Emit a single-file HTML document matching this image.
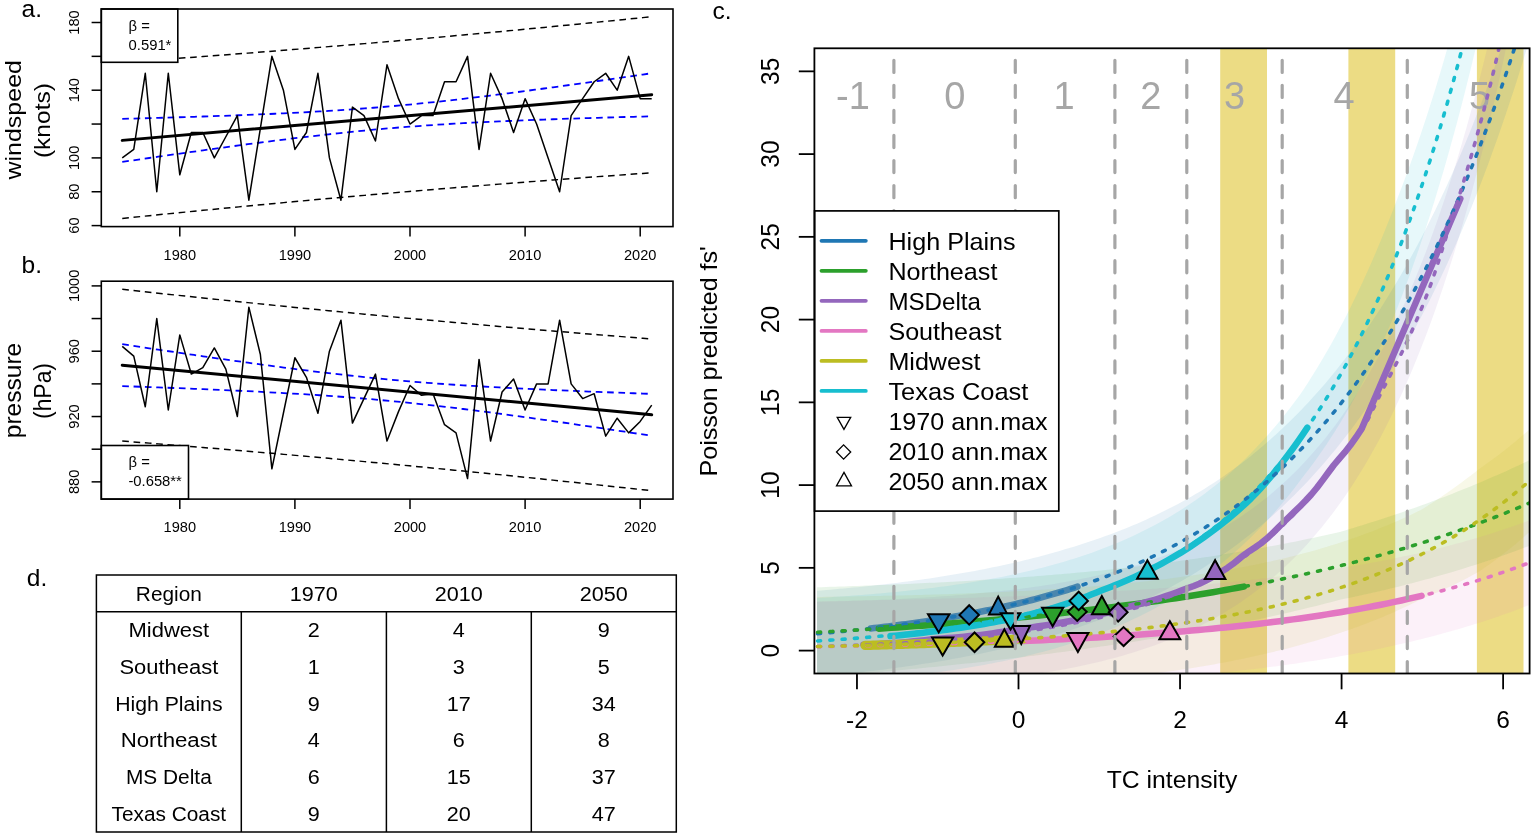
<!DOCTYPE html>
<html><head><meta charset="utf-8"><title>Figure</title>
<style>html,body{margin:0;padding:0;background:#fff;}svg{display:block;}text{font-family:'Liberation Sans', Arial, sans-serif;}</style>
</head><body>
<svg width="1534" height="838" viewBox="0 0 1534 838">
<rect width="1534" height="838" fill="#fff"/>
<polyline points="122.25,62.31 131.22,61.68 140.2,61.05 149.17,60.42 158.15,59.78 167.12,59.13 176.09,58.48 185.07,57.83 194.04,57.17 203.02,56.5 211.99,55.83 220.96,55.16 229.94,54.47 238.91,53.79 247.88,53.1 256.86,52.4 265.83,51.7 274.81,51 283.78,50.29 292.75,49.57 301.73,48.85 310.7,48.12 319.68,47.39 328.65,46.65 337.62,45.91 346.6,45.16 355.57,44.41 364.55,43.65 373.52,42.89 382.49,42.12 391.47,41.35 400.44,40.57 409.41,39.79 418.39,39 427.36,38.21 436.34,37.41 445.31,36.6 454.28,35.79 463.26,34.98 472.23,34.16 481.21,33.33 490.18,32.5 499.15,31.67 508.13,30.83 517.1,29.98 526.08,29.13 535.05,28.27 544.02,27.41 553,26.55 561.97,25.67 570.94,24.8 579.92,23.92 588.89,23.03 597.87,22.14 606.84,21.24 615.81,20.34 624.79,19.44 633.76,18.53 642.74,17.61 651.71,16.69" fill="none" stroke="#000" stroke-width="1.45" stroke-dasharray="6.65 4.69"/>
<polyline points="122.25,218.45 131.22,217.53 140.2,216.61 149.17,215.7 158.15,214.79 167.12,213.89 176.09,213 185.07,212.11 194.04,211.22 203.02,210.34 211.99,209.46 220.96,208.59 229.94,207.72 238.91,206.86 247.88,206.01 256.86,205.16 265.83,204.31 274.81,203.47 283.78,202.63 292.75,201.8 301.73,200.98 310.7,200.16 319.68,199.34 328.65,198.53 337.62,197.73 346.6,196.93 355.57,196.14 364.55,195.35 373.52,194.56 382.49,193.79 391.47,193.01 400.44,192.24 409.41,191.48 418.39,190.72 427.36,189.97 436.34,189.22 445.31,188.48 454.28,187.75 463.26,187.01 472.23,186.29 481.21,185.57 490.18,184.85 499.15,184.14 508.13,183.43 517.1,182.73 526.08,182.04 535.05,181.35 544.02,180.66 553,179.98 561.97,179.31 570.94,178.64 579.92,177.97 588.89,177.31 597.87,176.65 606.84,176 615.81,175.36 624.79,174.72 633.76,174.08 642.74,173.45 651.71,172.83" fill="none" stroke="#000" stroke-width="1.45" stroke-dasharray="6.65 4.69"/>
<polyline points="122.25,118.83 131.22,118.6 140.2,118.36 149.17,118.12 158.15,117.87 167.12,117.61 176.09,117.34 185.07,117.07 194.04,116.79 203.02,116.5 211.99,116.21 220.96,115.9 229.94,115.58 238.91,115.24 247.88,114.89 256.86,114.53 265.83,114.15 274.81,113.76 283.78,113.34 292.75,112.9 301.73,112.44 310.7,111.96 319.68,111.45 328.65,110.91 337.62,110.34 346.6,109.74 355.57,109.11 364.55,108.44 373.52,107.74 382.49,107.01 391.47,106.23 400.44,105.42 409.41,104.58 418.39,103.7 427.36,102.78 436.34,101.84 445.31,100.86 454.28,99.85 463.26,98.81 472.23,97.75 481.21,96.67 490.18,95.56 499.15,94.43 508.13,93.28 517.1,92.11 526.08,90.92 535.05,89.73 544.02,88.51 553,87.29 561.97,86.05 570.94,84.8 579.92,83.54 588.89,82.28 597.87,81 606.84,79.72 615.81,78.43 624.79,77.13 633.76,75.83 642.74,74.52 651.71,73.21" fill="none" stroke="#0000ff" stroke-width="1.8" stroke-dasharray="6.65 4.69"/>
<polyline points="122.25,161.92 131.22,160.61 140.2,159.3 149.17,158 158.15,156.71 167.12,155.42 176.09,154.13 185.07,152.86 194.04,151.59 203.02,150.33 211.99,149.09 220.96,147.85 229.94,146.62 238.91,145.41 247.88,144.21 256.86,143.03 265.83,141.86 274.81,140.71 283.78,139.58 292.75,138.47 301.73,137.38 310.7,136.32 319.68,135.29 328.65,134.28 337.62,133.3 346.6,132.35 355.57,131.44 364.55,130.56 373.52,129.71 382.49,128.9 391.47,128.13 400.44,127.39 409.41,126.69 418.39,126.03 427.36,125.39 436.34,124.79 445.31,124.23 454.28,123.69 463.26,123.18 472.23,122.69 481.21,122.23 490.18,121.8 499.15,121.38 508.13,120.98 517.1,120.6 526.08,120.24 535.05,119.89 544.02,119.56 553,119.24 561.97,118.93 570.94,118.63 579.92,118.34 588.89,118.06 597.87,117.79 606.84,117.53 615.81,117.27 624.79,117.02 633.76,116.78 642.74,116.54 651.71,116.3" fill="none" stroke="#0000ff" stroke-width="1.8" stroke-dasharray="6.65 4.69"/>
<polyline points="122.25,157.9 133.76,149.44 145.27,73.28 156.78,191.75 168.29,73.28 179.8,174.82 191.31,132.51 202.82,132.51 214.33,157.9 225.84,136.74 237.35,115.59 248.86,200.21 260.37,128.28 271.88,56.35 283.39,90.2 294.9,149.44 306.41,132.51 317.92,73.28 329.43,157.9 340.94,200.21 352.45,107.12 363.96,115.59 375.47,140.97 386.98,64.81 398.49,98.66 410,124.05 421.51,115.59 433.02,115.59 444.53,81.74 456.04,81.74 467.55,56.35 479.06,149.44 490.57,73.28 502.08,98.66 513.59,132.51 525.1,98.66 536.61,124.05 548.12,157.9 559.63,191.75 571.14,115.59 582.65,98.66 594.16,81.74 605.67,73.28 617.18,90.2 628.69,56.35 640.2,98.66 651.71,98.66" fill="none" stroke="#000" stroke-width="1.5" stroke-linejoin="round"/>
<line x1="122.25" y1="140.38" x2="651.71" y2="94.76" stroke="#000" stroke-width="3.0" stroke-linecap="round"/>
<rect x="101.3" y="9.0" width="76.5" height="53.3" fill="#fff" stroke="#000" stroke-width="1.6"/>
<text x="128.6" y="30.6" font-size="14.8">&#946; =</text>
<text x="128.6" y="50.1" font-size="14.8">0.591*</text>
<rect x="101.3" y="9.0" width="571.7" height="217.6" fill="none" stroke="#000" stroke-width="1.6"/>
<line x1="91.6" y1="225.6" x2="101.3" y2="225.6" stroke="#000" stroke-width="1.5"/>
<text transform="translate(79.3 225.6) rotate(-90) scale(1 1.04)" font-size="14.6" text-anchor="middle">60</text>
<line x1="91.6" y1="191.75" x2="101.3" y2="191.75" stroke="#000" stroke-width="1.5"/>
<text transform="translate(79.3 191.75) rotate(-90) scale(1 1.04)" font-size="14.6" text-anchor="middle">80</text>
<line x1="91.6" y1="157.9" x2="101.3" y2="157.9" stroke="#000" stroke-width="1.5"/>
<text transform="translate(79.3 157.9) rotate(-90) scale(1 1.04)" font-size="14.6" text-anchor="middle">100</text>
<line x1="91.6" y1="124.05" x2="101.3" y2="124.05" stroke="#000" stroke-width="1.5"/>
<line x1="91.6" y1="90.2" x2="101.3" y2="90.2" stroke="#000" stroke-width="1.5"/>
<text transform="translate(79.3 90.2) rotate(-90) scale(1 1.04)" font-size="14.6" text-anchor="middle">140</text>
<line x1="91.6" y1="56.35" x2="101.3" y2="56.35" stroke="#000" stroke-width="1.5"/>
<line x1="91.6" y1="22.5" x2="101.3" y2="22.5" stroke="#000" stroke-width="1.5"/>
<text transform="translate(79.3 22.5) rotate(-90) scale(1 1.04)" font-size="14.6" text-anchor="middle">180</text>
<line x1="179.8" y1="226.6" x2="179.8" y2="236.4" stroke="#000" stroke-width="1.5"/>
<text x="179.8" y="259.5" font-size="14.6" text-anchor="middle">1980</text>
<line x1="294.9" y1="226.6" x2="294.9" y2="236.4" stroke="#000" stroke-width="1.5"/>
<text x="294.9" y="259.5" font-size="14.6" text-anchor="middle">1990</text>
<line x1="410" y1="226.6" x2="410" y2="236.4" stroke="#000" stroke-width="1.5"/>
<text x="410" y="259.5" font-size="14.6" text-anchor="middle">2000</text>
<line x1="525.1" y1="226.6" x2="525.1" y2="236.4" stroke="#000" stroke-width="1.5"/>
<text x="525.1" y="259.5" font-size="14.6" text-anchor="middle">2010</text>
<line x1="640.2" y1="226.6" x2="640.2" y2="236.4" stroke="#000" stroke-width="1.5"/>
<text x="640.2" y="259.5" font-size="14.6" text-anchor="middle">2020</text>
<text x="21.4" y="119.8" font-size="22" text-anchor="middle" transform="rotate(-90 21.4 119.8)" textLength="119.5" lengthAdjust="spacingAndGlyphs">windspeed</text>
<text x="50.5" y="120.6" font-size="22" text-anchor="middle" transform="rotate(-90 50.5 120.6)" textLength="75" lengthAdjust="spacingAndGlyphs">(knots)</text>
<polyline points="122.25,289.27 131.22,290.25 140.2,291.23 149.17,292.21 158.15,293.18 167.12,294.15 176.09,295.11 185.07,296.06 194.04,297.02 203.02,297.96 211.99,298.91 220.96,299.84 229.94,300.78 238.91,301.7 247.88,302.63 256.86,303.54 265.83,304.46 274.81,305.36 283.78,306.27 292.75,307.17 301.73,308.06 310.7,308.95 319.68,309.83 328.65,310.71 337.62,311.58 346.6,312.45 355.57,313.31 364.55,314.17 373.52,315.02 382.49,315.87 391.47,316.71 400.44,317.55 409.41,318.38 418.39,319.21 427.36,320.03 436.34,320.84 445.31,321.66 454.28,322.46 463.26,323.26 472.23,324.06 481.21,324.85 490.18,325.64 499.15,326.42 508.13,327.2 517.1,327.97 526.08,328.74 535.05,329.5 544.02,330.26 553,331.01 561.97,331.75 570.94,332.5 579.92,333.23 588.89,333.97 597.87,334.69 606.84,335.42 615.81,336.13 624.79,336.85 633.76,337.56 642.74,338.26 651.71,338.96" fill="none" stroke="#000" stroke-width="1.45" stroke-dasharray="6.65 4.69"/>
<polyline points="122.25,441.03 131.22,441.73 140.2,442.43 149.17,443.14 158.15,443.86 167.12,444.57 176.09,445.3 185.07,446.02 194.04,446.76 203.02,447.49 211.99,448.24 220.96,448.98 229.94,449.73 238.91,450.49 247.88,451.25 256.86,452.02 265.83,452.79 274.81,453.57 283.78,454.35 292.75,455.14 301.73,455.93 310.7,456.73 319.68,457.53 328.65,458.33 337.62,459.15 346.6,459.96 355.57,460.78 364.55,461.61 373.52,462.44 382.49,463.28 391.47,464.12 400.44,464.97 409.41,465.82 418.39,466.68 427.36,467.54 436.34,468.41 445.31,469.28 454.28,470.16 463.26,471.04 472.23,471.93 481.21,472.82 490.18,473.72 499.15,474.63 508.13,475.53 517.1,476.45 526.08,477.36 535.05,478.29 544.02,479.21 553,480.15 561.97,481.08 570.94,482.03 579.92,482.97 588.89,483.93 597.87,484.88 606.84,485.84 615.81,486.81 624.79,487.78 633.76,488.76 642.74,489.74 651.71,490.72" fill="none" stroke="#000" stroke-width="1.45" stroke-dasharray="6.65 4.69"/>
<polyline points="122.25,344.21 131.22,345.57 140.2,346.93 149.17,348.29 158.15,349.64 167.12,350.99 176.09,352.32 185.07,353.65 194.04,354.97 203.02,356.29 211.99,357.59 220.96,358.88 229.94,360.17 238.91,361.44 247.88,362.69 256.86,363.93 265.83,365.16 274.81,366.37 283.78,367.56 292.75,368.73 301.73,369.87 310.7,371 319.68,372.09 328.65,373.16 337.62,374.21 346.6,375.22 355.57,376.2 364.55,377.14 373.52,378.05 382.49,378.93 391.47,379.77 400.44,380.58 409.41,381.35 418.39,382.09 427.36,382.8 436.34,383.47 445.31,384.11 454.28,384.73 463.26,385.31 472.23,385.88 481.21,386.41 490.18,386.93 499.15,387.42 508.13,387.9 517.1,388.36 526.08,388.8 535.05,389.23 544.02,389.65 553,390.05 561.97,390.44 570.94,390.82 579.92,391.19 588.89,391.55 597.87,391.91 606.84,392.26 615.81,392.6 624.79,392.93 633.76,393.26 642.74,393.58 651.71,393.9" fill="none" stroke="#0000ff" stroke-width="1.8" stroke-dasharray="6.65 4.69"/>
<polyline points="122.25,386.09 131.22,386.41 140.2,386.73 149.17,387.06 158.15,387.39 167.12,387.73 176.09,388.08 185.07,388.44 194.04,388.8 203.02,389.17 211.99,389.55 220.96,389.94 229.94,390.34 238.91,390.76 247.88,391.19 256.86,391.63 265.83,392.09 274.81,392.57 283.78,393.06 292.75,393.58 301.73,394.11 310.7,394.68 319.68,395.26 328.65,395.88 337.62,396.52 346.6,397.19 355.57,397.9 364.55,398.64 373.52,399.41 382.49,400.22 391.47,401.06 400.44,401.94 409.41,402.85 418.39,403.79 427.36,404.77 436.34,405.79 445.31,406.83 454.28,407.9 463.26,408.99 472.23,410.12 481.21,411.26 490.18,412.43 499.15,413.62 508.13,414.83 517.1,416.06 526.08,417.3 535.05,418.55 544.02,419.82 553,421.11 561.97,422.4 570.94,423.7 579.92,425.02 588.89,426.34 597.87,427.67 606.84,429 615.81,430.35 624.79,431.7 633.76,433.06 642.74,434.42 651.71,435.78" fill="none" stroke="#0000ff" stroke-width="1.8" stroke-dasharray="6.65 4.69"/>
<polyline points="122.25,346.32 133.76,356.12 145.27,406.74 156.78,318.56 168.29,410.01 179.8,334.89 191.31,374.08 202.82,367.55 214.33,347.95 225.84,369.18 237.35,416.54 248.86,307.13 260.37,354.49 271.88,468.8 283.39,413.27 294.9,357.75 306.41,377.35 317.92,413.27 329.43,351.22 340.94,320.19 352.45,423.07 363.96,398.58 375.47,374.08 386.98,441.03 398.49,411.64 410,385.51 421.51,395.31 433.02,393.68 444.53,424.7 456.04,432.87 467.55,478.59 479.06,359.38 490.57,441.03 502.08,392.04 513.59,378.98 525.1,410.01 536.61,383.88 548.12,383.88 559.63,320.19 571.14,383.88 582.65,398.58 594.16,393.68 605.67,436.14 617.18,418.17 628.69,432.87 640.2,421.44 651.71,405.11" fill="none" stroke="#000" stroke-width="1.5" stroke-linejoin="round"/>
<line x1="122.25" y1="365.15" x2="651.71" y2="414.84" stroke="#000" stroke-width="3.0" stroke-linecap="round"/>
<rect x="101.3" y="445.5" width="87.2" height="53.6" fill="#fff" stroke="#000" stroke-width="1.6"/>
<text x="128.6" y="467.4" font-size="14.8">&#946; =</text>
<text x="128.4" y="486.4" font-size="14.8">-0.658**</text>
<rect x="101.3" y="281.2" width="571.7" height="217.9" fill="none" stroke="#000" stroke-width="1.6"/>
<line x1="91.6" y1="481.86" x2="101.3" y2="481.86" stroke="#000" stroke-width="1.5"/>
<text transform="translate(79.3 481.86) rotate(-90) scale(1 1.04)" font-size="14.6" text-anchor="middle">880</text>
<line x1="91.6" y1="449.2" x2="101.3" y2="449.2" stroke="#000" stroke-width="1.5"/>
<line x1="91.6" y1="416.54" x2="101.3" y2="416.54" stroke="#000" stroke-width="1.5"/>
<text transform="translate(79.3 416.54) rotate(-90) scale(1 1.04)" font-size="14.6" text-anchor="middle">920</text>
<line x1="91.6" y1="383.88" x2="101.3" y2="383.88" stroke="#000" stroke-width="1.5"/>
<line x1="91.6" y1="351.22" x2="101.3" y2="351.22" stroke="#000" stroke-width="1.5"/>
<text transform="translate(79.3 351.22) rotate(-90) scale(1 1.04)" font-size="14.6" text-anchor="middle">960</text>
<line x1="91.6" y1="318.56" x2="101.3" y2="318.56" stroke="#000" stroke-width="1.5"/>
<line x1="91.6" y1="285.9" x2="101.3" y2="285.9" stroke="#000" stroke-width="1.5"/>
<text transform="translate(79.3 285.9) rotate(-90) scale(1 1.04)" font-size="14.6" text-anchor="middle">1000</text>
<line x1="179.8" y1="499.1" x2="179.8" y2="508.9" stroke="#000" stroke-width="1.5"/>
<text x="179.8" y="532" font-size="14.6" text-anchor="middle">1980</text>
<line x1="294.9" y1="499.1" x2="294.9" y2="508.9" stroke="#000" stroke-width="1.5"/>
<text x="294.9" y="532" font-size="14.6" text-anchor="middle">1990</text>
<line x1="410" y1="499.1" x2="410" y2="508.9" stroke="#000" stroke-width="1.5"/>
<text x="410" y="532" font-size="14.6" text-anchor="middle">2000</text>
<line x1="525.1" y1="499.1" x2="525.1" y2="508.9" stroke="#000" stroke-width="1.5"/>
<text x="525.1" y="532" font-size="14.6" text-anchor="middle">2010</text>
<line x1="640.2" y1="499.1" x2="640.2" y2="508.9" stroke="#000" stroke-width="1.5"/>
<text x="640.2" y="532" font-size="14.6" text-anchor="middle">2020</text>
<text x="20.9" y="390.5" font-size="23" text-anchor="middle" transform="rotate(-90 20.9 390.5)" textLength="95.5" lengthAdjust="spacingAndGlyphs">pressure</text>
<text x="50.5" y="391" font-size="23" text-anchor="middle" transform="rotate(-90 50.5 391)" textLength="56" lengthAdjust="spacingAndGlyphs">(hPa)</text>
<text x="21.5" y="16.8" font-size="24.5">a.</text>
<text x="21.5" y="272.6" font-size="24.5">b.</text>
<text x="712.5" y="18.5" font-size="24.5">c.</text>
<text x="26.8" y="586.1" font-size="24.5">d.</text>
<rect x="96.4" y="575.0" width="579.9" height="257" fill="none" stroke="#000" stroke-width="1.5"/>
<line x1="96.4" y1="611.7" x2="676.3" y2="611.7" stroke="#000" stroke-width="1.5"/>
<line x1="241.3" y1="611.7" x2="241.3" y2="832" stroke="#000" stroke-width="1.5"/>
<line x1="386.4" y1="611.7" x2="386.4" y2="832" stroke="#000" stroke-width="1.5"/>
<line x1="531.3" y1="611.7" x2="531.3" y2="832" stroke="#000" stroke-width="1.5"/>
<text x="168.85" y="600.8" font-size="20" text-anchor="middle" textLength="66" lengthAdjust="spacingAndGlyphs">Region</text>
<text x="313.85" y="600.8" font-size="20" text-anchor="middle" textLength="48.04" lengthAdjust="spacingAndGlyphs">1970</text>
<text x="458.85" y="600.8" font-size="20" text-anchor="middle" textLength="48.04" lengthAdjust="spacingAndGlyphs">2010</text>
<text x="603.8" y="600.8" font-size="20" text-anchor="middle" textLength="48.04" lengthAdjust="spacingAndGlyphs">2050</text>
<text x="168.85" y="637.43" font-size="20" text-anchor="middle" textLength="80.6" lengthAdjust="spacingAndGlyphs">Midwest</text>
<text x="313.85" y="637.43" font-size="20" text-anchor="middle" textLength="12.01" lengthAdjust="spacingAndGlyphs">2</text>
<text x="458.85" y="637.43" font-size="20" text-anchor="middle" textLength="12.01" lengthAdjust="spacingAndGlyphs">4</text>
<text x="603.8" y="637.43" font-size="20" text-anchor="middle" textLength="12.01" lengthAdjust="spacingAndGlyphs">9</text>
<text x="168.85" y="674.06" font-size="20" text-anchor="middle" textLength="98.8" lengthAdjust="spacingAndGlyphs">Southeast</text>
<text x="313.85" y="674.06" font-size="20" text-anchor="middle" textLength="12.01" lengthAdjust="spacingAndGlyphs">1</text>
<text x="458.85" y="674.06" font-size="20" text-anchor="middle" textLength="12.01" lengthAdjust="spacingAndGlyphs">3</text>
<text x="603.8" y="674.06" font-size="20" text-anchor="middle" textLength="12.01" lengthAdjust="spacingAndGlyphs">5</text>
<text x="168.85" y="710.69" font-size="20" text-anchor="middle" textLength="107.4" lengthAdjust="spacingAndGlyphs">High Plains</text>
<text x="313.85" y="710.69" font-size="20" text-anchor="middle" textLength="12.01" lengthAdjust="spacingAndGlyphs">9</text>
<text x="458.85" y="710.69" font-size="20" text-anchor="middle" textLength="24.02" lengthAdjust="spacingAndGlyphs">17</text>
<text x="603.8" y="710.69" font-size="20" text-anchor="middle" textLength="24.02" lengthAdjust="spacingAndGlyphs">34</text>
<text x="168.85" y="747.32" font-size="20" text-anchor="middle" textLength="96.4" lengthAdjust="spacingAndGlyphs">Northeast</text>
<text x="313.85" y="747.32" font-size="20" text-anchor="middle" textLength="12.01" lengthAdjust="spacingAndGlyphs">4</text>
<text x="458.85" y="747.32" font-size="20" text-anchor="middle" textLength="12.01" lengthAdjust="spacingAndGlyphs">6</text>
<text x="603.8" y="747.32" font-size="20" text-anchor="middle" textLength="12.01" lengthAdjust="spacingAndGlyphs">8</text>
<text x="168.85" y="783.95" font-size="20" text-anchor="middle" textLength="85.8" lengthAdjust="spacingAndGlyphs">MS Delta</text>
<text x="313.85" y="783.95" font-size="20" text-anchor="middle" textLength="12.01" lengthAdjust="spacingAndGlyphs">6</text>
<text x="458.85" y="783.95" font-size="20" text-anchor="middle" textLength="24.02" lengthAdjust="spacingAndGlyphs">15</text>
<text x="603.8" y="783.95" font-size="20" text-anchor="middle" textLength="24.02" lengthAdjust="spacingAndGlyphs">37</text>
<text x="168.85" y="820.58" font-size="20" text-anchor="middle" textLength="114.6" lengthAdjust="spacingAndGlyphs">Texas Coast</text>
<text x="313.85" y="820.58" font-size="20" text-anchor="middle" textLength="12.01" lengthAdjust="spacingAndGlyphs">9</text>
<text x="458.85" y="820.58" font-size="20" text-anchor="middle" textLength="24.02" lengthAdjust="spacingAndGlyphs">20</text>
<text x="603.8" y="820.58" font-size="20" text-anchor="middle" textLength="24.02" lengthAdjust="spacingAndGlyphs">47</text>
<defs><clipPath id="cc"><rect x="814.4" y="48.3" width="715.2" height="625.2"/></clipPath></defs>
<g clip-path="url(#cc)">
<rect x="1220.2" y="48.3" width="46.8" height="625.2" fill="#ecdc84"/>
<rect x="1348.4" y="48.3" width="46.8" height="625.2" fill="#ecdc84"/>
<rect x="1476.9" y="48.3" width="46.6" height="625.2" fill="#ecdc84"/>
<path d="M817,590.77 L821.51,590.41 L826.01,590.04 L830.52,589.66 L835.03,589.27 L839.54,588.87 L844.04,588.46 L848.55,588.04 L853.06,587.61 L857.56,587.16 L862.07,586.71 L866.58,586.25 L871.09,585.77 L875.59,585.28 L880.1,584.78 L884.61,584.27 L889.11,583.74 L893.62,583.2 L898.13,582.65 L902.64,582.09 L907.14,581.51 L911.65,580.91 L916.16,580.31 L920.66,579.68 L925.17,579.05 L929.68,578.39 L934.19,577.72 L938.69,577.03 L943.2,576.33 L947.71,575.61 L952.21,574.87 L956.72,574.12 L961.23,573.34 L965.74,572.55 L970.24,571.74 L974.75,570.9 L979.26,570.05 L983.76,569.18 L988.27,568.28 L992.78,567.37 L997.29,566.43 L1001.79,565.47 L1006.3,564.49 L1010.81,563.48 L1015.32,562.45 L1019.82,561.39 L1024.33,560.31 L1028.84,559.2 L1033.34,558.06 L1037.85,556.9 L1042.36,555.71 L1046.87,554.49 L1051.37,553.24 L1055.88,551.97 L1060.39,550.67 L1064.89,549.37 L1069.4,548.04 L1073.91,546.67 L1078.42,545.27 L1082.92,543.84 L1087.43,542.37 L1091.94,540.86 L1096.44,539.32 L1100.95,537.74 L1105.46,536.12 L1109.97,534.46 L1114.47,532.76 L1118.98,531.02 L1123.49,529.24 L1127.99,527.42 L1132.5,525.55 L1137.01,523.63 L1141.52,521.67 L1146.02,519.66 L1150.53,517.6 L1155.04,515.49 L1159.54,513.34 L1164.05,511.12 L1168.56,508.86 L1173.07,506.54 L1177.57,504.17 L1182.08,501.74 L1186.59,499.25 L1191.09,496.69 L1195.6,494.08 L1200.11,491.41 L1204.62,488.67 L1209.12,485.87 L1213.63,483 L1218.14,480.06 L1222.64,477 L1227.15,473.84 L1231.66,470.6 L1236.17,467.29 L1240.67,463.9 L1245.18,460.43 L1249.69,456.88 L1254.19,453.25 L1258.7,449.53 L1263.21,445.73 L1267.72,441.83 L1272.22,437.85 L1276.73,433.77 L1281.24,429.6 L1285.74,425.33 L1290.25,420.96 L1294.76,416.49 L1299.27,411.92 L1303.77,407.23 L1308.28,402.44 L1312.79,397.54 L1317.29,392.52 L1321.8,387.39 L1326.31,382.13 L1330.82,376.76 L1335.32,371.25 L1339.83,365.62 L1344.34,359.86 L1348.84,353.96 L1353.35,347.93 L1357.86,341.75 L1362.37,335.43 L1366.87,328.96 L1371.38,322.34 L1375.89,315.57 L1380.4,308.64 L1384.9,301.54 L1389.41,294.28 L1393.92,286.85 L1398.42,279.25 L1402.93,271.47 L1407.44,263.51 L1411.95,255.36 L1416.45,247.02 L1420.96,238.49 L1425.47,229.76 L1429.97,220.82 L1434.48,211.67 L1438.99,202.32 L1443.5,192.74 L1448,182.94 L1452.51,172.9 L1457.02,162.64 L1461.52,152.13 L1466.03,141.38 L1470.54,130.38 L1475.05,119.12 L1479.55,107.6 L1484.06,95.81 L1488.57,83.74 L1493.07,71.39 L1497.58,58.75 L1502.09,45.82 L1506.6,32.58 L1511.1,19.04 L1515.61,5.17 L1520.12,-9.01 L1524.62,-23.53 L1529.13,-38.39 L1533.64,-53.59 L1533.64,25.84 L1529.13,41.02 L1524.62,55.85 L1520.12,70.35 L1515.61,84.51 L1511.1,98.35 L1506.6,111.87 L1502.09,125.08 L1497.58,137.99 L1493.07,150.61 L1488.57,162.93 L1484.06,174.98 L1479.55,186.74 L1475.05,198.24 L1470.54,209.48 L1466.03,220.46 L1461.52,231.19 L1457.02,241.67 L1452.51,251.91 L1448,261.92 L1443.5,271.69 L1438.99,281.25 L1434.48,290.58 L1429.97,299.71 L1425.47,308.62 L1420.96,317.33 L1416.45,325.84 L1411.95,334.15 L1407.44,342.28 L1402.93,350.22 L1398.42,357.97 L1393.92,365.55 L1389.41,372.96 L1384.9,380.19 L1380.4,387.26 L1375.89,394.17 L1371.38,400.92 L1366.87,407.52 L1362.37,413.96 L1357.86,420.26 L1353.35,426.41 L1348.84,432.42 L1344.34,438.29 L1339.83,444.03 L1335.32,449.64 L1330.82,455.12 L1326.31,460.47 L1321.8,465.7 L1317.29,470.82 L1312.79,475.81 L1308.28,480.69 L1303.77,485.46 L1299.27,490.12 L1294.76,494.67 L1290.25,499.11 L1285.74,503.46 L1281.24,507.7 L1276.73,511.85 L1272.22,515.91 L1267.72,519.87 L1263.21,523.74 L1258.7,527.52 L1254.19,531.21 L1249.69,534.82 L1245.18,538.35 L1240.67,541.79 L1236.17,545.16 L1231.66,548.45 L1227.15,551.66 L1222.64,554.8 L1218.14,557.91 L1213.63,560.99 L1209.12,564 L1204.62,566.94 L1200.11,569.82 L1195.6,572.63 L1191.09,575.38 L1186.59,578.07 L1182.08,580.7 L1177.57,583.27 L1173.07,585.78 L1168.56,588.24 L1164.05,590.64 L1159.54,592.99 L1155.04,595.29 L1150.53,597.53 L1146.02,599.73 L1141.52,601.88 L1137.01,603.98 L1132.5,606.03 L1127.99,608.04 L1123.49,610.01 L1118.98,611.93 L1114.47,613.8 L1109.97,615.64 L1105.46,617.44 L1100.95,619.2 L1096.44,620.91 L1091.94,622.59 L1087.43,624.24 L1082.92,625.85 L1078.42,627.42 L1073.91,628.96 L1069.4,630.46 L1064.89,631.93 L1060.39,633.37 L1055.88,634.76 L1051.37,636.1 L1046.87,637.41 L1042.36,638.69 L1037.85,639.94 L1033.34,641.16 L1028.84,642.36 L1024.33,643.53 L1019.82,644.67 L1015.32,645.79 L1010.81,646.89 L1006.3,647.95 L1001.79,649 L997.29,650.02 L992.78,651.02 L988.27,652 L983.76,652.96 L979.26,653.89 L974.75,654.8 L970.24,655.7 L965.74,656.57 L961.23,657.43 L956.72,658.26 L952.21,659.08 L947.71,659.88 L943.2,660.66 L938.69,661.43 L934.19,662.17 L929.68,662.91 L925.17,663.62 L920.66,664.32 L916.16,665.01 L911.65,665.68 L907.14,666.33 L902.64,666.97 L898.13,667.6 L893.62,668.21 L889.11,668.81 L884.61,669.4 L880.1,669.97 L875.59,670.53 L871.09,671.08 L866.58,671.62 L862.07,672.15 L857.56,672.66 L853.06,673.17 L848.55,673.66 L844.04,674.14 L839.54,674.61 L835.03,675.08 L830.52,675.53 L826.01,675.97 L821.51,676.4 L817,676.83Z" fill="#1f77b4" fill-opacity="0.1"/>
<path d="M817,587.27 L821.51,587.13 L826.01,587 L830.52,586.86 L835.03,586.72 L839.54,586.57 L844.04,586.42 L848.55,586.27 L853.06,586.11 L857.56,585.95 L862.07,585.79 L866.58,585.62 L871.09,585.45 L875.59,585.28 L880.1,585.1 L884.61,584.92 L889.11,584.73 L893.62,584.54 L898.13,584.35 L902.64,584.15 L907.14,583.95 L911.65,583.74 L916.16,583.53 L920.66,583.32 L925.17,583.1 L929.68,582.87 L934.19,582.65 L938.69,582.41 L943.2,582.18 L947.71,581.94 L952.21,581.69 L956.72,581.44 L961.23,581.18 L965.74,580.92 L970.24,580.66 L974.75,580.39 L979.26,580.11 L983.76,579.83 L988.27,579.54 L992.78,579.25 L997.29,578.96 L1001.79,578.65 L1006.3,578.35 L1010.81,578.03 L1015.32,577.72 L1019.82,577.39 L1024.33,577.06 L1028.84,576.73 L1033.34,576.38 L1037.85,576.04 L1042.36,575.68 L1046.87,575.32 L1051.37,574.95 L1055.88,574.58 L1060.39,574.2 L1064.89,573.82 L1069.4,573.42 L1073.91,573.03 L1078.42,572.62 L1082.92,572.21 L1087.43,571.79 L1091.94,571.36 L1096.44,570.93 L1100.95,570.47 L1105.46,569.99 L1109.97,569.5 L1114.47,569 L1118.98,568.5 L1123.49,567.99 L1127.99,567.47 L1132.5,566.94 L1137.01,566.4 L1141.52,565.86 L1146.02,565.31 L1150.53,564.74 L1155.04,564.17 L1159.54,563.6 L1164.05,563.01 L1168.56,562.41 L1173.07,561.81 L1177.57,561.2 L1182.08,560.57 L1186.59,559.94 L1191.09,559.3 L1195.6,558.65 L1200.11,557.99 L1204.62,557.32 L1209.12,556.64 L1213.63,555.95 L1218.14,555.25 L1222.64,554.53 L1227.15,553.81 L1231.66,553.08 L1236.17,552.34 L1240.67,551.58 L1245.18,550.82 L1249.69,550.04 L1254.19,549.26 L1258.7,548.46 L1263.21,547.65 L1267.72,546.82 L1272.22,545.99 L1276.73,545.14 L1281.24,544.28 L1285.74,543.41 L1290.25,542.53 L1294.76,541.63 L1299.27,540.72 L1303.77,539.8 L1308.28,538.87 L1312.79,537.92 L1317.29,536.95 L1321.8,535.98 L1326.31,534.99 L1330.82,533.98 L1335.32,532.96 L1339.83,531.93 L1344.34,530.71 L1348.84,529.35 L1353.35,527.99 L1357.86,526.6 L1362.37,525.21 L1366.87,523.79 L1371.38,522.36 L1375.89,520.92 L1380.4,519.45 L1384.9,517.97 L1389.41,516.48 L1393.92,514.97 L1398.42,513.44 L1402.93,511.89 L1407.44,510.32 L1411.95,508.74 L1416.45,507.14 L1420.96,505.52 L1425.47,503.88 L1429.97,502.22 L1434.48,500.54 L1438.99,498.85 L1443.5,497.13 L1448,495.4 L1452.51,493.64 L1457.02,491.86 L1461.52,490.06 L1466.03,488.25 L1470.54,486.41 L1475.05,484.54 L1479.55,482.66 L1484.06,480.75 L1488.57,478.83 L1493.07,476.87 L1497.58,474.9 L1502.09,472.9 L1506.6,470.88 L1511.1,468.84 L1515.61,466.77 L1520.12,464.67 L1524.62,462.55 L1529.13,460.41 L1533.64,458.24 L1533.64,544.13 L1529.13,545.88 L1524.62,547.6 L1520.12,549.29 L1515.61,550.96 L1511.1,552.61 L1506.6,554.23 L1502.09,555.83 L1497.58,557.41 L1493.07,558.96 L1488.57,560.49 L1484.06,561.99 L1479.55,563.47 L1475.05,564.93 L1470.54,566.37 L1466.03,567.79 L1461.52,569.18 L1457.02,570.56 L1452.51,571.91 L1448,573.25 L1443.5,574.56 L1438.99,575.85 L1434.48,577.12 L1429.97,578.38 L1425.47,579.61 L1420.96,580.83 L1416.45,582.02 L1411.95,583.2 L1407.44,584.36 L1402.93,585.5 L1398.42,586.63 L1393.92,587.74 L1389.41,588.83 L1384.9,589.9 L1380.4,590.95 L1375.89,591.99 L1371.38,593.02 L1366.87,594.02 L1362.37,595.01 L1357.86,595.99 L1353.35,596.95 L1348.84,597.89 L1344.34,598.82 L1339.83,599.84 L1335.32,601.03 L1330.82,602.21 L1326.31,603.36 L1321.8,604.51 L1317.29,605.64 L1312.79,606.76 L1308.28,607.86 L1303.77,608.95 L1299.27,610.02 L1294.76,611.09 L1290.25,612.14 L1285.74,613.18 L1281.24,614.2 L1276.73,615.21 L1272.22,616.21 L1267.72,617.2 L1263.21,618.18 L1258.7,619.14 L1254.19,620.09 L1249.69,621.04 L1245.18,621.97 L1240.67,622.88 L1236.17,623.79 L1231.66,624.69 L1227.15,625.58 L1222.64,626.45 L1218.14,627.32 L1213.63,628.17 L1209.12,629.01 L1204.62,629.85 L1200.11,630.67 L1195.6,631.49 L1191.09,632.29 L1186.59,633.09 L1182.08,633.88 L1177.57,634.65 L1173.07,635.42 L1168.56,636.18 L1164.05,636.93 L1159.54,637.67 L1155.04,638.4 L1150.53,639.12 L1146.02,639.84 L1141.52,640.55 L1137.01,641.24 L1132.5,641.93 L1127.99,642.62 L1123.49,643.29 L1118.98,643.96 L1114.47,644.62 L1109.97,645.27 L1105.46,645.91 L1100.95,646.55 L1096.44,647.2 L1091.94,647.85 L1087.43,648.5 L1082.92,649.14 L1078.42,649.78 L1073.91,650.4 L1069.4,651.02 L1064.89,651.64 L1060.39,652.24 L1055.88,652.85 L1051.37,653.44 L1046.87,654.03 L1042.36,654.61 L1037.85,655.19 L1033.34,655.76 L1028.84,656.32 L1024.33,656.88 L1019.82,657.43 L1015.32,657.97 L1010.81,658.51 L1006.3,659.05 L1001.79,659.58 L997.29,660.1 L992.78,660.62 L988.27,661.13 L983.76,661.64 L979.26,662.14 L974.75,662.64 L970.24,663.13 L965.74,663.62 L961.23,664.1 L956.72,664.58 L952.21,665.05 L947.71,665.52 L943.2,665.98 L938.69,666.44 L934.19,666.89 L929.68,667.34 L925.17,667.79 L920.66,668.23 L916.16,668.67 L911.65,669.1 L907.14,669.53 L902.64,669.95 L898.13,670.37 L893.62,670.78 L889.11,671.2 L884.61,671.6 L880.1,672.01 L875.59,672.41 L871.09,672.8 L866.58,673.2 L862.07,673.58 L857.56,673.97 L853.06,674.35 L848.55,674.73 L844.04,675.1 L839.54,675.47 L835.03,675.84 L830.52,676.21 L826.01,676.57 L821.51,676.92 L817,677.28Z" fill="#2ca02c" fill-opacity="0.1"/>
<path d="M817,601.89 L821.51,601.78 L826.01,601.66 L830.52,601.53 L835.03,601.41 L839.54,601.27 L844.04,601.13 L848.55,600.99 L853.06,600.84 L857.56,600.68 L862.07,600.52 L866.58,600.35 L871.09,600.17 L875.59,599.99 L880.1,599.8 L884.61,599.61 L889.11,599.41 L893.62,599.2 L898.13,598.98 L902.64,598.75 L907.14,598.52 L911.65,598.27 L916.16,598.02 L920.66,597.76 L925.17,597.49 L929.68,597.21 L934.19,596.92 L938.69,596.62 L943.2,596.31 L947.71,595.98 L952.21,595.65 L956.72,595.3 L961.23,594.94 L965.74,594.57 L970.24,594.18 L974.75,593.78 L979.26,593.37 L983.76,592.94 L988.27,592.5 L992.78,592.04 L997.29,591.57 L1001.79,591.07 L1006.3,590.56 L1010.81,590.04 L1015.32,589.49 L1019.82,588.93 L1024.33,588.34 L1028.84,587.74 L1033.34,587.11 L1037.85,586.46 L1042.36,585.79 L1046.87,585.1 L1051.37,584.38 L1055.88,583.64 L1060.39,582.87 L1064.89,582.08 L1069.4,581.25 L1073.91,580.4 L1078.42,579.52 L1082.92,578.61 L1087.43,577.67 L1091.94,576.69 L1096.44,575.69 L1100.95,574.64 L1105.46,573.56 L1109.97,572.45 L1114.47,571.29 L1118.98,570.1 L1123.49,568.86 L1127.99,567.58 L1132.5,566.26 L1137.01,564.9 L1141.52,563.48 L1146.02,562.02 L1150.53,560.51 L1155.04,558.94 L1159.54,557.32 L1164.05,555.65 L1168.56,553.92 L1173.07,552.13 L1177.57,550.28 L1182.08,548.37 L1186.59,546.39 L1191.09,544.34 L1195.6,542.23 L1200.11,540.04 L1204.62,537.78 L1209.12,535.44 L1213.63,533.02 L1218.14,530.52 L1222.64,527.93 L1227.15,525.25 L1231.66,522.49 L1236.17,519.63 L1240.67,516.67 L1245.18,513.61 L1249.69,510.45 L1254.19,507.18 L1258.7,503.8 L1263.21,500.3 L1267.72,496.69 L1272.22,492.95 L1276.73,489.09 L1281.24,485.09 L1285.74,480.96 L1290.25,476.69 L1294.76,472.28 L1299.27,467.71 L1303.77,462.99 L1308.28,458.11 L1312.79,453.07 L1317.29,447.85 L1321.8,442.46 L1326.31,436.88 L1330.82,431.12 L1335.32,425.16 L1339.83,418.99 L1344.34,412.62 L1348.84,406.04 L1353.35,399.23 L1357.86,392.18 L1362.37,384.91 L1366.87,377.38 L1371.38,369.6 L1375.89,361.56 L1380.4,353.24 L1384.9,344.64 L1389.41,335.76 L1393.92,326.57 L1398.42,317.07 L1402.93,307.25 L1407.44,297.09 L1411.95,286.6 L1416.45,275.74 L1420.96,264.53 L1425.47,252.93 L1429.97,240.94 L1434.48,228.54 L1438.99,215.72 L1443.5,202.48 L1448,188.78 L1452.51,174.62 L1457.02,159.98 L1461.52,144.85 L1466.03,129.2 L1470.54,113.03 L1475.05,96.31 L1479.55,79.02 L1484.06,61.15 L1488.57,42.68 L1493.07,23.58 L1497.58,3.84 L1502.09,-16.58 L1506.6,-37.68 L1511.1,-59.49 L1515.61,-82.04 L1520.12,-105.35 L1524.62,-129.46 L1529.13,-154.37 L1533.64,-180.13 L1533.64,-97.36 L1529.13,-71.56 L1524.62,-46.61 L1520.12,-22.46 L1515.61,0.89 L1511.1,23.48 L1506.6,45.34 L1502.09,66.48 L1497.58,86.93 L1493.07,106.72 L1488.57,125.86 L1484.06,144.38 L1479.55,162.29 L1475.05,179.61 L1470.54,196.38 L1466.03,212.59 L1461.52,228.28 L1457.02,243.45 L1452.51,258.13 L1448,272.33 L1443.5,286.07 L1438.99,299.36 L1434.48,312.22 L1429.97,324.66 L1425.47,336.69 L1420.96,348.33 L1416.45,359.59 L1411.95,370.48 L1407.44,381.02 L1402.93,391.22 L1398.42,401.08 L1393.92,410.62 L1389.41,419.85 L1384.9,428.78 L1380.4,437.42 L1375.89,445.78 L1371.38,453.86 L1366.87,461.68 L1362.37,469.25 L1357.86,476.57 L1353.35,483.65 L1348.84,490.5 L1344.34,497.13 L1339.83,503.54 L1335.32,509.75 L1330.82,515.75 L1326.31,521.56 L1321.8,527.17 L1317.29,532.61 L1312.79,537.87 L1308.28,542.95 L1303.77,547.88 L1299.27,552.64 L1294.76,557.24 L1290.25,561.7 L1285.74,566.01 L1281.24,570.18 L1276.73,574.22 L1272.22,578.13 L1267.72,581.9 L1263.21,585.56 L1258.7,589.1 L1254.19,592.52 L1249.69,595.83 L1245.18,599.03 L1240.67,602.13 L1236.17,605.13 L1231.66,608.03 L1227.15,610.84 L1222.64,613.56 L1218.14,616.19 L1213.63,618.73 L1209.12,621.19 L1204.62,623.57 L1200.11,625.88 L1195.6,628.11 L1191.09,630.26 L1186.59,632.35 L1182.08,634.37 L1177.57,636.33 L1173.07,638.22 L1168.56,640.05 L1164.05,641.82 L1159.54,643.54 L1155.04,645.2 L1150.53,646.8 L1146.02,648.36 L1141.52,649.86 L1137.01,651.31 L1132.5,652.72 L1127.99,654.09 L1123.49,655.41 L1118.98,656.68 L1114.47,657.92 L1109.97,659.11 L1105.46,660.27 L1100.95,661.39 L1096.44,662.48 L1091.94,663.53 L1087.43,664.54 L1082.92,665.53 L1078.42,666.48 L1073.91,667.4 L1069.4,668.3 L1064.89,669.16 L1060.39,670 L1055.88,670.81 L1051.37,671.59 L1046.87,672.35 L1042.36,673.08 L1037.85,673.8 L1033.34,674.49 L1028.84,675.15 L1024.33,675.8 L1019.82,676.43 L1015.32,677.03 L1010.81,677.62 L1006.3,678.19 L1001.79,678.74 L997.29,679.27 L992.78,679.79 L988.27,680.29 L983.76,680.77 L979.26,681.24 L974.75,681.7 L970.24,682.14 L965.74,682.56 L961.23,682.98 L956.72,683.38 L952.21,683.77 L947.71,684.14 L943.2,684.51 L938.69,684.86 L934.19,685.21 L929.68,685.54 L925.17,685.86 L920.66,686.17 L916.16,686.47 L911.65,686.77 L907.14,687.05 L902.64,687.33 L898.13,687.6 L893.62,687.86 L889.11,688.11 L884.61,688.35 L880.1,688.59 L875.59,688.82 L871.09,689.04 L866.58,689.26 L862.07,689.47 L857.56,689.67 L853.06,689.87 L848.55,690.06 L844.04,690.25 L839.54,690.43 L835.03,690.61 L830.52,690.78 L826.01,690.94 L821.51,691.1 L817,691.26Z" fill="#9467bd" fill-opacity="0.1"/>
<path d="M817,601.21 L821.51,601.15 L826.01,601.07 L830.52,601 L835.03,600.93 L839.54,600.85 L844.04,600.78 L848.55,600.7 L853.06,600.62 L857.56,600.53 L862.07,600.45 L866.58,600.36 L871.09,600.28 L875.59,600.19 L880.1,600.09 L884.61,600 L889.11,599.9 L893.62,599.81 L898.13,599.71 L902.64,599.6 L907.14,599.5 L911.65,599.39 L916.16,599.28 L920.66,599.17 L925.17,599.06 L929.68,598.94 L934.19,598.82 L938.69,598.7 L943.2,598.58 L947.71,598.45 L952.21,598.32 L956.72,598.19 L961.23,598.06 L965.74,597.92 L970.24,597.78 L974.75,597.64 L979.26,597.49 L983.76,597.34 L988.27,597.19 L992.78,597.03 L997.29,596.88 L1001.79,596.71 L1006.3,596.55 L1010.81,596.38 L1015.32,596.21 L1019.82,596.03 L1024.33,595.85 L1028.84,595.67 L1033.34,595.48 L1037.85,595.29 L1042.36,595.09 L1046.87,594.89 L1051.37,594.69 L1055.88,594.48 L1060.39,594.27 L1064.89,594.05 L1069.4,593.83 L1073.91,593.61 L1078.42,593.38 L1082.92,593.14 L1087.43,592.9 L1091.94,592.66 L1096.44,592.41 L1100.95,592.15 L1105.46,591.89 L1109.97,591.63 L1114.47,591.35 L1118.98,591.08 L1123.49,590.8 L1127.99,590.51 L1132.5,590.21 L1137.01,589.91 L1141.52,589.61 L1146.02,589.3 L1150.53,588.98 L1155.04,588.65 L1159.54,588.32 L1164.05,587.98 L1168.56,587.64 L1173.07,587.28 L1177.57,586.92 L1182.08,586.56 L1186.59,586.18 L1191.09,585.8 L1195.6,585.41 L1200.11,585.01 L1204.62,584.6 L1209.12,584.19 L1213.63,583.77 L1218.14,583.34 L1222.64,582.89 L1227.15,582.45 L1231.66,581.99 L1236.17,581.52 L1240.67,581.04 L1245.18,580.56 L1249.69,580.06 L1254.19,579.55 L1258.7,579.04 L1263.21,578.51 L1267.72,577.97 L1272.22,577.42 L1276.73,576.86 L1281.24,576.32 L1285.74,575.77 L1290.25,575.21 L1294.76,574.64 L1299.27,574.06 L1303.77,573.46 L1308.28,572.85 L1312.79,572.23 L1317.29,571.6 L1321.8,570.95 L1326.31,570.28 L1330.82,569.61 L1335.32,568.91 L1339.83,568.21 L1344.34,567.49 L1348.84,566.75 L1353.35,566 L1357.86,565.23 L1362.37,564.45 L1366.87,563.65 L1371.38,562.83 L1375.89,562 L1380.4,561.14 L1384.9,560.27 L1389.41,559.39 L1393.92,558.48 L1398.42,557.55 L1402.93,556.61 L1407.44,555.65 L1411.95,554.66 L1416.45,553.66 L1420.96,552.63 L1425.47,551.58 L1429.97,550.51 L1434.48,549.42 L1438.99,548.31 L1443.5,547.17 L1448,546.01 L1452.51,544.83 L1457.02,543.62 L1461.52,542.38 L1466.03,541.12 L1470.54,539.84 L1475.05,538.52 L1479.55,537.19 L1484.06,535.82 L1488.57,534.42 L1493.07,533 L1497.58,531.55 L1502.09,530.07 L1506.6,528.55 L1511.1,527.01 L1515.61,525.43 L1520.12,523.82 L1524.62,522.18 L1529.13,520.51 L1533.64,518.8 L1533.64,603.24 L1529.13,605.03 L1524.62,606.8 L1520.12,608.52 L1515.61,610.22 L1511.1,611.88 L1506.6,613.51 L1502.09,615.11 L1497.58,616.68 L1493.07,618.22 L1488.57,619.73 L1484.06,621.21 L1479.55,622.66 L1475.05,624.09 L1470.54,625.49 L1466.03,626.86 L1461.52,628.21 L1457.02,629.53 L1452.51,630.82 L1448,632.09 L1443.5,633.34 L1438.99,634.57 L1434.48,635.77 L1429.97,636.94 L1425.47,638.1 L1420.96,639.23 L1416.45,640.35 L1411.95,641.44 L1407.44,642.51 L1402.93,643.56 L1398.42,644.59 L1393.92,645.6 L1389.41,646.6 L1384.9,647.57 L1380.4,648.53 L1375.89,649.47 L1371.38,650.39 L1366.87,651.29 L1362.37,652.18 L1357.86,653.05 L1353.35,653.9 L1348.84,654.74 L1344.34,655.56 L1339.83,656.37 L1335.32,657.16 L1330.82,657.94 L1326.31,658.71 L1321.8,659.45 L1317.29,660.19 L1312.79,660.91 L1308.28,661.62 L1303.77,662.32 L1299.27,663 L1294.76,663.67 L1290.25,664.33 L1285.74,664.98 L1281.24,665.61 L1276.73,666.23 L1272.22,666.81 L1267.72,667.37 L1263.21,667.93 L1258.7,668.47 L1254.19,669 L1249.69,669.53 L1245.18,670.04 L1240.67,670.54 L1236.17,671.04 L1231.66,671.52 L1227.15,671.99 L1222.64,672.46 L1218.14,672.92 L1213.63,673.36 L1209.12,673.8 L1204.62,674.23 L1200.11,674.66 L1195.6,675.07 L1191.09,675.48 L1186.59,675.88 L1182.08,676.27 L1177.57,676.65 L1173.07,677.03 L1168.56,677.4 L1164.05,677.76 L1159.54,678.11 L1155.04,678.46 L1150.53,678.8 L1146.02,679.14 L1141.52,679.47 L1137.01,679.79 L1132.5,680.1 L1127.99,680.41 L1123.49,680.72 L1118.98,681.02 L1114.47,681.31 L1109.97,681.6 L1105.46,681.88 L1100.95,682.15 L1096.44,682.43 L1091.94,682.69 L1087.43,682.95 L1082.92,683.21 L1078.42,683.46 L1073.91,683.71 L1069.4,683.95 L1064.89,684.18 L1060.39,684.42 L1055.88,684.65 L1051.37,684.87 L1046.87,685.09 L1042.36,685.31 L1037.85,685.52 L1033.34,685.72 L1028.84,685.93 L1024.33,686.13 L1019.82,686.32 L1015.32,686.52 L1010.81,686.71 L1006.3,686.89 L1001.79,687.07 L997.29,687.25 L992.78,687.43 L988.27,687.6 L983.76,687.77 L979.26,687.93 L974.75,688.09 L970.24,688.25 L965.74,688.41 L961.23,688.56 L956.72,688.71 L952.21,688.86 L947.71,689.01 L943.2,689.15 L938.69,689.29 L934.19,689.43 L929.68,689.56 L925.17,689.69 L920.66,689.82 L916.16,689.95 L911.65,690.08 L907.14,690.2 L902.64,690.32 L898.13,690.44 L893.62,690.55 L889.11,690.67 L884.61,690.78 L880.1,690.89 L875.59,691 L871.09,691.1 L866.58,691.21 L862.07,691.31 L857.56,691.41 L853.06,691.51 L848.55,691.61 L844.04,691.7 L839.54,691.8 L835.03,691.89 L830.52,691.98 L826.01,692.07 L821.51,692.15 L817,692.24Z" fill="#e377c2" fill-opacity="0.1"/>
<path d="M817,596.94 L821.51,596.88 L826.01,596.82 L830.52,596.76 L835.03,596.7 L839.54,596.63 L844.04,596.57 L848.55,596.5 L853.06,596.42 L857.56,596.35 L862.07,596.27 L866.58,596.19 L871.09,596.1 L875.59,596.02 L880.1,595.93 L884.61,595.83 L889.11,595.73 L893.62,595.63 L898.13,595.53 L902.64,595.42 L907.14,595.31 L911.65,595.2 L916.16,595.08 L920.66,594.96 L925.17,594.83 L929.68,594.71 L934.19,594.57 L938.69,594.43 L943.2,594.29 L947.71,594.15 L952.21,593.99 L956.72,593.84 L961.23,593.68 L965.74,593.51 L970.24,593.34 L974.75,593.17 L979.26,592.99 L983.76,592.8 L988.27,592.61 L992.78,592.42 L997.29,592.21 L1001.79,592.01 L1006.3,591.79 L1010.81,591.57 L1015.32,591.35 L1019.82,591.11 L1024.33,590.88 L1028.84,590.63 L1033.34,590.38 L1037.85,590.12 L1042.36,589.85 L1046.87,589.58 L1051.37,589.29 L1055.88,589.01 L1060.39,588.71 L1064.89,588.4 L1069.4,588.09 L1073.91,587.77 L1078.42,587.44 L1082.92,587.1 L1087.43,586.75 L1091.94,586.39 L1096.44,586.02 L1100.95,585.64 L1105.46,585.26 L1109.97,584.86 L1114.47,584.45 L1118.98,584.03 L1123.49,583.6 L1127.99,583.16 L1132.5,582.7 L1137.01,582.24 L1141.52,581.76 L1146.02,581.27 L1150.53,580.77 L1155.04,580.26 L1159.54,579.73 L1164.05,579.19 L1168.56,578.63 L1173.07,578.06 L1177.57,577.47 L1182.08,576.87 L1186.59,576.26 L1191.09,575.63 L1195.6,574.98 L1200.11,574.32 L1204.62,573.64 L1209.12,572.94 L1213.63,572.22 L1218.14,571.49 L1222.64,570.74 L1227.15,569.97 L1231.66,569.18 L1236.17,568.36 L1240.67,567.53 L1245.18,566.68 L1249.69,565.81 L1254.19,564.91 L1258.7,564 L1263.21,563.06 L1267.72,562.09 L1272.22,561.1 L1276.73,560.09 L1281.24,559.04 L1285.74,557.96 L1290.25,556.85 L1294.76,555.72 L1299.27,554.56 L1303.77,553.37 L1308.28,552.16 L1312.79,550.91 L1317.29,549.63 L1321.8,548.32 L1326.31,546.98 L1330.82,545.61 L1335.32,544.2 L1339.83,542.76 L1344.34,541.28 L1348.84,539.77 L1353.35,538.22 L1357.86,536.63 L1362.37,535 L1366.87,533.34 L1371.38,531.63 L1375.89,529.88 L1380.4,528.09 L1384.9,526.26 L1389.41,524.38 L1393.92,522.45 L1398.42,520.48 L1402.93,518.46 L1407.44,516.39 L1411.95,514.28 L1416.45,512.11 L1420.96,509.89 L1425.47,507.23 L1429.97,504.34 L1434.48,501.4 L1438.99,498.4 L1443.5,495.34 L1448,492.22 L1452.51,489.04 L1457.02,485.8 L1461.52,482.49 L1466.03,479.11 L1470.54,475.67 L1475.05,472.15 L1479.55,468.64 L1484.06,465.51 L1488.57,462.31 L1493.07,459.02 L1497.58,455.66 L1502.09,452.22 L1506.6,448.69 L1511.1,445.08 L1515.61,441.38 L1520.12,437.6 L1524.62,433.72 L1529.13,429.75 L1533.64,425.69 L1533.64,528.3 L1529.13,532.36 L1524.62,536.33 L1520.12,540.21 L1515.61,543.99 L1511.1,547.69 L1506.6,551.3 L1502.09,554.83 L1497.58,558.27 L1493.07,561.63 L1488.57,564.92 L1484.06,568.12 L1479.55,571.25 L1475.05,573.86 L1470.54,576.32 L1466.03,578.71 L1461.52,581.03 L1457.02,583.29 L1452.51,585.48 L1448,587.6 L1443.5,589.66 L1438.99,591.67 L1434.48,593.61 L1429.97,595.5 L1425.47,597.33 L1420.96,599.27 L1416.45,601.54 L1411.95,603.77 L1407.44,605.93 L1402.93,608.05 L1398.42,610.12 L1393.92,612.15 L1389.41,614.12 L1384.9,616.05 L1380.4,617.94 L1375.89,619.78 L1371.38,621.58 L1366.87,623.34 L1362.37,625.05 L1357.86,626.73 L1353.35,628.37 L1348.84,629.97 L1344.34,631.54 L1339.83,633.07 L1335.32,634.56 L1330.82,636.02 L1326.31,637.44 L1321.8,638.84 L1317.29,640.2 L1312.79,641.52 L1308.28,642.82 L1303.77,644.09 L1299.27,645.33 L1294.76,646.54 L1290.25,647.73 L1285.74,648.88 L1281.24,650.01 L1276.73,651.12 L1272.22,652.21 L1267.72,653.28 L1263.21,654.33 L1258.7,655.35 L1254.19,656.35 L1249.69,657.32 L1245.18,658.28 L1240.67,659.21 L1236.17,660.12 L1231.66,661.01 L1227.15,661.89 L1222.64,662.74 L1218.14,663.57 L1213.63,664.39 L1209.12,665.18 L1204.62,665.96 L1200.11,666.72 L1195.6,667.47 L1191.09,668.2 L1186.59,668.91 L1182.08,669.6 L1177.57,670.29 L1173.07,670.95 L1168.56,671.6 L1164.05,672.24 L1159.54,672.86 L1155.04,673.47 L1150.53,674.07 L1146.02,674.65 L1141.52,675.22 L1137.01,675.78 L1132.5,676.33 L1127.99,676.86 L1123.49,677.38 L1118.98,677.89 L1114.47,678.39 L1109.97,678.88 L1105.46,679.36 L1100.95,679.83 L1096.44,680.29 L1091.94,680.74 L1087.43,681.18 L1082.92,681.61 L1078.42,682.03 L1073.91,682.44 L1069.4,682.84 L1064.89,683.24 L1060.39,683.63 L1055.88,684 L1051.37,684.37 L1046.87,684.74 L1042.36,685.09 L1037.85,685.44 L1033.34,685.78 L1028.84,686.11 L1024.33,686.44 L1019.82,686.76 L1015.32,687.07 L1010.81,687.38 L1006.3,687.68 L1001.79,687.98 L997.29,688.27 L992.78,688.55 L988.27,688.83 L983.76,689.1 L979.26,689.37 L974.75,689.63 L970.24,689.88 L965.74,690.13 L961.23,690.38 L956.72,690.62 L952.21,690.86 L947.71,691.09 L943.2,691.32 L938.69,691.54 L934.19,691.76 L929.68,691.97 L925.17,692.18 L920.66,692.39 L916.16,692.59 L911.65,692.79 L907.14,692.99 L902.64,693.18 L898.13,693.37 L893.62,693.55 L889.11,693.73 L884.61,693.91 L880.1,694.08 L875.59,694.25 L871.09,694.42 L866.58,694.59 L862.07,694.75 L857.56,694.91 L853.06,695.07 L848.55,695.22 L844.04,695.37 L839.54,695.52 L835.03,695.67 L830.52,695.81 L826.01,695.95 L821.51,696.09 L817,696.23Z" fill="#bcbd22" fill-opacity="0.1"/>
<path d="M817,597.96 L821.51,597.7 L826.01,597.42 L830.52,597.14 L835.03,596.85 L839.54,596.56 L844.04,596.25 L848.55,595.93 L853.06,595.61 L857.56,595.27 L862.07,594.92 L866.58,594.56 L871.09,594.19 L875.59,593.81 L880.1,593.42 L884.61,593.02 L889.11,592.6 L893.62,592.17 L898.13,591.73 L902.64,591.27 L907.14,590.8 L911.65,590.32 L916.16,589.82 L920.66,589.31 L925.17,588.78 L929.68,588.23 L934.19,587.67 L938.69,587.09 L943.2,586.49 L947.71,585.88 L952.21,585.25 L956.72,584.59 L961.23,583.92 L965.74,583.23 L970.24,582.51 L974.75,581.78 L979.26,581.02 L983.76,580.24 L988.27,579.44 L992.78,578.61 L997.29,577.76 L1001.79,576.88 L1006.3,575.98 L1010.81,575.05 L1015.32,574.09 L1019.82,573.1 L1024.33,572.09 L1028.84,571.04 L1033.34,569.96 L1037.85,568.85 L1042.36,567.71 L1046.87,566.53 L1051.37,565.32 L1055.88,564.07 L1060.39,562.78 L1064.89,561.46 L1069.4,560.09 L1073.91,558.69 L1078.42,557.24 L1082.92,555.75 L1087.43,554.22 L1091.94,552.64 L1096.44,551.02 L1100.95,549.34 L1105.46,547.62 L1109.97,545.85 L1114.47,544.02 L1118.98,542.14 L1123.49,540.2 L1127.99,538.21 L1132.5,536.15 L1137.01,534.04 L1141.52,531.86 L1146.02,529.62 L1150.53,527.31 L1155.04,524.94 L1159.54,522.49 L1164.05,519.98 L1168.56,517.38 L1173.07,514.71 L1177.57,511.97 L1182.08,509.14 L1186.59,506.23 L1191.09,503.23 L1195.6,500.14 L1200.11,496.96 L1204.62,493.69 L1209.12,490.32 L1213.63,486.86 L1218.14,483.29 L1222.64,479.56 L1227.15,475.66 L1231.66,471.66 L1236.17,467.54 L1240.67,463.3 L1245.18,458.94 L1249.69,454.46 L1254.19,449.84 L1258.7,445.1 L1263.21,440.21 L1267.72,435.19 L1272.22,430.02 L1276.73,424.7 L1281.24,419.23 L1285.74,413.61 L1290.25,407.82 L1294.76,401.86 L1299.27,395.73 L1303.77,389.17 L1308.28,382.23 L1312.79,375.11 L1317.29,367.8 L1321.8,360.28 L1326.31,352.56 L1330.82,344.63 L1335.32,336.49 L1339.83,328.12 L1344.34,319.52 L1348.84,310.68 L1353.35,301.61 L1357.86,292.28 L1362.37,282.69 L1366.87,272.84 L1371.38,262.71 L1375.89,252.31 L1380.4,241.61 L1384.9,230.62 L1389.41,219.32 L1393.92,207.7 L1398.42,195.79 L1402.93,184.06 L1407.44,171.98 L1411.95,159.54 L1416.45,146.74 L1420.96,133.57 L1425.47,120.01 L1429.97,106.05 L1434.48,91.68 L1438.99,76.89 L1443.5,61.66 L1448,45.99 L1452.51,29.86 L1457.02,13.26 L1461.52,-3.83 L1466.03,-21.42 L1470.54,-39.53 L1475.05,-58.16 L1479.55,-77.35 L1484.06,-97.1 L1488.57,-117.42 L1493.07,-138.35 L1497.58,-159.88 L1502.09,-182.05 L1506.6,-204.87 L1511.1,-228.35 L1515.61,-252.53 L1520.12,-277.41 L1524.62,-303.03 L1529.13,-329.39 L1533.64,-356.53 L1533.64,-247.3 L1529.13,-220.16 L1524.62,-193.8 L1520.12,-168.18 L1515.61,-143.3 L1511.1,-119.12 L1506.6,-95.64 L1502.09,-72.82 L1497.58,-50.65 L1493.07,-29.12 L1488.57,-8.19 L1484.06,12.13 L1479.55,31.88 L1475.05,51.07 L1470.54,69.7 L1466.03,87.81 L1461.52,105.4 L1457.02,122.49 L1452.51,139.09 L1448,155.22 L1443.5,170.89 L1438.99,186.12 L1434.48,200.91 L1429.97,215.28 L1425.47,229.24 L1420.96,242.8 L1416.45,255.97 L1411.95,268.77 L1407.44,281.21 L1402.93,293.29 L1398.42,305.02 L1393.92,315.92 L1389.41,326.46 L1384.9,336.69 L1380.4,346.6 L1375.89,356.22 L1371.38,365.55 L1366.87,374.6 L1362.37,383.37 L1357.86,391.88 L1353.35,400.13 L1348.84,408.13 L1344.34,415.89 L1339.83,423.41 L1335.32,430.71 L1330.82,437.77 L1326.31,444.63 L1321.8,451.27 L1317.29,457.7 L1312.79,463.94 L1308.28,469.99 L1303.77,475.85 L1299.27,481.71 L1294.76,487.66 L1290.25,493.43 L1285.74,499.03 L1281.24,504.48 L1276.73,509.76 L1272.22,514.89 L1267.72,519.88 L1263.21,524.72 L1258.7,529.41 L1254.19,533.98 L1249.69,538.4 L1245.18,542.71 L1240.67,546.88 L1236.17,550.93 L1231.66,554.87 L1227.15,558.69 L1222.64,562.4 L1218.14,566.06 L1213.63,569.66 L1209.12,573.17 L1204.62,576.57 L1200.11,579.88 L1195.6,583.09 L1191.09,586.22 L1186.59,589.25 L1182.08,592.2 L1177.57,595.07 L1173.07,597.85 L1168.56,600.56 L1164.05,603.19 L1159.54,605.74 L1155.04,608.22 L1150.53,610.64 L1146.02,612.98 L1141.52,615.26 L1137.01,617.47 L1132.5,619.62 L1127.99,621.71 L1123.49,623.74 L1118.98,625.72 L1114.47,627.64 L1109.97,629.5 L1105.46,631.31 L1100.95,633.07 L1096.44,634.78 L1091.94,636.45 L1087.43,638.06 L1082.92,639.63 L1078.42,641.16 L1073.91,642.64 L1069.4,644.08 L1064.89,645.48 L1060.39,646.84 L1055.88,648.17 L1051.37,649.45 L1046.87,650.7 L1042.36,651.92 L1037.85,653.1 L1033.34,654.24 L1028.84,655.36 L1024.33,656.44 L1019.82,657.5 L1015.32,658.52 L1010.81,659.52 L1006.3,660.49 L1001.79,661.43 L997.29,662.34 L992.78,663.23 L988.27,664.09 L983.76,664.93 L979.26,665.75 L974.75,666.54 L970.24,667.32 L965.74,668.07 L961.23,668.8 L956.72,669.5 L952.21,670.19 L947.71,670.86 L943.2,671.52 L938.69,672.15 L934.19,672.77 L929.68,673.37 L925.17,673.95 L920.66,674.51 L916.16,675.07 L911.65,675.6 L907.14,676.12 L902.64,676.63 L898.13,677.12 L893.62,677.6 L889.11,678.07 L884.61,678.52 L880.1,678.96 L875.59,679.39 L871.09,679.81 L866.58,680.21 L862.07,680.61 L857.56,680.99 L853.06,681.37 L848.55,681.73 L844.04,682.08 L839.54,682.43 L835.03,682.76 L830.52,683.09 L826.01,683.41 L821.51,683.71 L817,684.02Z" fill="#17becf" fill-opacity="0.1"/>
<text x="852.9" y="109.2" font-size="38" text-anchor="middle" fill="#a6a6a6">-1</text>
<text x="954.7" y="109.2" font-size="38" text-anchor="middle" fill="#a6a6a6">0</text>
<text x="1064" y="109.2" font-size="38" text-anchor="middle" fill="#a6a6a6">1</text>
<text x="1150.8" y="109.2" font-size="38" text-anchor="middle" fill="#a6a6a6">2</text>
<text x="1234.5" y="109.2" font-size="38" text-anchor="middle" fill="#a6a6a6">3</text>
<text x="1344" y="109.2" font-size="38" text-anchor="middle" fill="#a6a6a6">4</text>
<text x="1479.6" y="109.2" font-size="38" text-anchor="middle" fill="#a6a6a6">5</text>
<polyline points="870.69,628.47 874.2,628.07 877.7,627.66 881.2,627.25 884.71,626.82 888.21,626.39 891.72,625.95 895.22,625.5 898.73,625.05 902.23,624.58 905.74,624.11 909.24,623.63 912.75,623.14 916.25,622.64 919.76,622.14 923.26,621.62 926.76,621.09 930.27,620.56 933.77,620.01 937.28,619.46 940.78,618.89 944.29,618.32 947.79,617.73 951.3,617.13 954.8,616.53 958.31,615.91 961.81,615.28 965.32,614.64 968.82,613.99 972.32,613.32 975.83,612.64 979.33,611.96 982.84,611.25 986.34,610.54 989.85,609.81 993.35,609.07 996.86,608.32 1000.36,607.55 1003.87,606.77 1007.37,605.98 1010.87,605.17 1014.38,604.34 1017.88,603.5 1021.39,602.65 1024.89,601.78 1028.4,600.89 1031.9,599.99 1035.41,599.07 1038.91,598.14 1042.42,597.18 1045.92,596.21 1049.43,595.23 1052.93,594.22 1056.43,593.2 1059.94,592.16 1063.44,591.1 1066.95,590.02 1070.45,588.92 1073.96,587.8 1077.46,586.66" fill="none" stroke="#4a86ae" stroke-width="6.5" stroke-linecap="round" stroke-linejoin="round"/>
<polyline points="878.77,628.64 884.96,628.24 891.14,627.83 897.33,627.41 903.52,626.99 909.71,626.56 915.89,626.12 922.08,625.67 928.27,625.21 934.46,624.75 940.65,624.28 946.83,623.8 953.02,623.31 959.21,622.81 965.4,622.3 971.58,621.78 977.77,621.25 983.96,620.72 990.15,620.17 996.34,619.62 1002.52,619.05 1008.71,618.47 1014.9,617.88 1021.09,617.29 1027.28,616.68 1033.46,616.06 1039.65,615.43 1045.84,614.78 1052.03,614.13 1058.21,613.46 1064.4,612.78 1070.59,612.09 1076.78,611.39 1082.97,610.67 1089.15,609.94 1095.34,609.2 1101.53,608.44 1107.72,607.67 1113.9,606.88 1120.09,606.08 1126.28,605.27 1132.47,604.44 1138.66,603.6 1144.84,602.74 1151.03,601.86 1157.22,600.97 1163.41,600.06 1169.59,599.14 1175.78,598.2 1181.97,597.24 1188.16,596.27 1194.35,595.27 1200.53,594.26 1206.72,593.23 1212.91,592.18 1219.1,591.11 1225.28,590.03 1231.47,588.92 1237.66,587.79 1243.85,586.64" fill="none" stroke="#2ca02c" stroke-width="6.5" stroke-linecap="round" stroke-linejoin="round"/>
<polyline points="863.42,644.64 869.02,644.43 874.62,644.18 880.22,643.91 885.82,643.6 891.41,643.27 897.01,642.9 902.61,642.45 908.21,641.93 913.81,641.35 919.41,640.74 925.01,640.14 930.6,639.59 936.2,639.08 941.8,638.58 947.4,638.1 953,637.62 958.6,637.14 964.2,636.63 969.79,636.1 975.39,635.51 980.99,634.87 986.59,634.15 992.19,633.38 997.79,632.56 1003.39,631.71 1008.98,630.83 1014.58,629.94 1020.18,629.08 1025.78,628.23 1031.38,627.39 1036.98,626.55 1042.57,625.71 1048.17,624.84 1053.77,623.95 1059.37,623.01 1064.97,622.01 1070.57,620.94 1076.17,619.8 1081.76,618.6 1087.36,617.33 1092.96,616.01 1098.56,614.65 1104.16,613.24 1109.76,611.81 1115.36,610.36 1120.95,608.9 1126.55,607.45 1132.15,605.99 1137.75,604.51 1143.35,602.99 1148.95,601.41 1154.55,599.75 1160.14,597.99 1165.74,596.14 1171.34,594.22 1176.94,592.23 1182.54,590.17 1188.14,588.06 1193.74,585.96 1199.33,583.7 1204.93,581.05 1210.53,578.07 1216.13,574.88 1221.73,571.54 1227.33,567.95 1232.93,563.94 1238.52,559.37 1244.12,554.84 1249.72,550.92 1255.32,547.25 1260.92,543.36 1266.52,538.78 1272.12,533.6 1277.71,528.07 1283.31,522.49 1288.91,517.08 1294.51,511.71 1300.11,506.25 1305.71,500.55 1311.3,494.48 1316.9,487.78 1322.5,480.39 1328.1,472.72 1333.7,465.29 1339.3,458.57 1344.9,452.15 1350.49,445.08 1356.09,437.21 1361.69,428.66 1460.31,198.78" fill="none" stroke="#9467bd" stroke-width="6.5" stroke-linecap="round" stroke-linejoin="round"/>
<polyline points="1022.54,641.06 1029.3,640.78 1036.06,640.48 1042.83,640.18 1049.59,639.86 1056.35,639.54 1063.12,639.21 1069.88,638.87 1076.64,638.51 1083.4,638.15 1090.17,637.77 1096.93,637.39 1103.69,636.99 1110.45,636.58 1117.22,636.16 1123.98,635.72 1130.74,635.28 1137.51,634.82 1144.27,634.34 1151.03,633.85 1157.79,633.35 1164.56,632.83 1171.32,632.3 1178.08,631.74 1184.85,631.18 1191.61,630.59 1198.37,629.99 1205.13,629.37 1211.9,628.73 1218.66,628.07 1225.42,627.4 1232.18,626.7 1238.95,625.98 1245.71,625.24 1252.47,624.48 1259.24,623.69 1266,622.88 1272.76,622.05 1279.52,621.19 1286.29,620.3 1293.05,619.39 1299.81,618.45 1306.58,617.49 1313.34,616.49 1320.1,615.46 1326.86,614.41 1333.63,613.32 1340.39,612.2 1347.15,611.04 1353.91,609.85 1360.68,608.62 1367.44,607.36 1374.2,606.06 1380.97,604.72 1387.73,603.34 1394.49,601.92 1401.25,600.45 1408.02,598.95 1414.78,597.39 1421.54,595.79" fill="none" stroke="#e377c2" stroke-width="6.5" stroke-linecap="round" stroke-linejoin="round"/>
<polyline points="865.04,645.43 867.73,645.36 870.43,645.28 873.13,645.21 875.82,645.13 878.52,645.05 881.22,644.97 883.92,644.89 886.61,644.81 889.31,644.73 892.01,644.64 894.7,644.56 897.4,644.47 900.1,644.38 902.79,644.3 905.49,644.21 908.19,644.11 910.88,644.02 913.58,643.93 916.28,643.83 918.97,643.74 921.67,643.64 924.37,643.54 927.07,643.44 929.76,643.34 932.46,643.23 935.16,643.13 937.85,643.02 940.55,642.91 943.25,642.8 945.94,642.69 948.64,642.58 951.34,642.46 954.03,642.35 956.73,642.23 959.43,642.11 962.13,641.99 964.82,641.87 967.52,641.74 970.22,641.61 972.91,641.49 975.61,641.36 978.31,641.22 981,641.09 983.7,640.95 986.4,640.82 989.09,640.68 991.79,640.54 994.49,640.39 997.18,640.25 999.88,640.1 1002.58,639.95 1005.28,639.8 1007.97,639.64 1010.67,639.49 1013.37,639.33 1016.06,639.17 1018.76,639 1021.46,638.84 1024.15,638.67" fill="none" stroke="#bcbd22" stroke-width="9.2" stroke-linecap="round" stroke-linejoin="round"/>
<polyline points="890.48,636.1 895.16,635.65 899.85,635.19 904.53,634.71 909.21,634.22 913.9,633.71 918.58,633.19 923.27,632.66 927.95,632.1 932.63,631.53 937.32,630.94 942,630.34 946.68,629.71 951.37,629.07 956.05,628.4 960.74,627.72 965.42,627.01 970.1,626.28 974.79,625.53 979.47,624.76 984.15,623.96 988.84,623.14 993.52,622.29 998.21,621.42 1002.89,620.52 1007.57,619.59 1012.26,618.63 1016.94,617.64 1021.62,616.59 1026.31,615.43 1030.99,614.23 1035.68,612.99 1040.36,611.7 1045.04,610.37 1049.73,609 1054.41,607.58 1059.09,606.11 1063.78,604.59 1068.46,603.02 1073.15,601.39 1077.83,599.71 1082.51,597.97 1087.2,596.18 1091.88,594.32 1096.56,592.39 1101.25,590.53 1105.93,588.78 1110.62,586.97 1115.3,585.11 1119.98,583.2 1124.67,581.24 1129.35,579.21 1134.03,577.13 1138.72,574.99 1143.4,572.78 1148.09,570.51 1152.77,568.17 1157.45,565.77 1162.14,563.29 1166.82,560.74 1171.5,558.12 1176.19,555.42 1180.87,552.64 1185.56,549.71 1190.24,546.7 1194.92,543.6 1199.61,540.41 1204.29,537.13 1208.97,533.74 1213.66,530.25 1218.34,526.66 1223.03,522.97 1227.71,519.16 1232.39,515.24 1237.08,511.2 1241.76,507.04 1246.44,502.76 1251.13,498.35 1255.81,493.56 1260.5,488.47 1265.18,483.22 1269.86,477.8 1274.55,472.21 1279.23,466.43 1283.91,460.47 1288.6,454.32 1293.28,447.96 1297.97,441.4 1302.65,434.63 1307.33,427.64" fill="none" stroke="#17becf" stroke-width="6.5" stroke-linecap="round" stroke-linejoin="round"/>
<polyline points="817.6,633.75 821.2,633.44 824.8,633.12 828.39,632.79 831.99,632.46 835.59,632.12 839.19,631.77 842.79,631.42 846.39,631.07 849.98,630.7 853.58,630.33 857.18,629.95 860.78,629.57 864.38,629.18 867.97,628.78 871.57,628.37 875.17,627.96 878.77,627.54 882.37,627.11 885.97,626.67 889.56,626.22 893.16,625.77 896.76,625.3 900.36,624.83 903.96,624.35 907.55,623.86 911.15,623.37 914.75,622.86 918.35,622.34 921.95,621.81 925.55,621.28 929.14,620.73 932.74,620.17 936.34,619.61 939.94,619.03 943.54,618.44 947.13,617.84 950.73,617.23 954.33,616.61 957.93,615.98 961.53,615.33 965.13,614.67 968.72,614 972.32,613.32 975.92,612.63 979.52,611.92 983.12,611.2 986.71,610.46 990.31,609.72 993.91,608.95 997.51,608.18 1001.11,607.39 1004.71,606.58 1008.3,605.76 1011.9,604.93 1015.5,604.07 1019.1,603.21 1022.7,602.32 1026.29,601.42 1029.89,600.51 1033.49,599.57 1037.09,598.62 1040.69,597.66 1044.29,596.67 1047.88,595.66 1051.48,594.64 1055.08,593.6 1058.68,592.53 1062.28,591.45 1065.87,590.35 1069.47,589.23 1073.07,588.08 1076.67,586.92 1080.27,585.73 1083.87,584.52 1087.46,583.29 1091.06,582.04 1094.66,580.76 1098.26,579.46 1101.86,578.13 1105.45,576.78 1109.05,575.4 1112.65,574 1116.25,572.58 1119.85,571.12 1123.45,569.64 1127.04,568.13 1130.64,566.59 1134.24,565.03 1137.84,563.43 1141.44,561.81 1145.03,560.15 1148.63,558.47 1152.23,556.75 1155.83,555 1159.43,553.22 1163.03,551.41 1166.62,549.56 1170.22,547.67 1173.82,545.76 1177.42,543.8 1181.02,541.81 1184.61,539.78 1188.21,537.72 1191.81,535.62 1195.41,533.47 1199.01,531.29 1202.61,529.07 1206.2,526.8 1209.8,524.49 1213.4,522.14 1217,519.75 1220.6,517.31 1224.19,514.83 1227.79,512.3 1231.39,509.72 1234.99,507.09 1238.59,504.42 1242.19,501.69 1245.78,498.92 1249.38,496.09 1252.98,493.21 1256.58,490.28 1260.18,487.29 1263.77,484.25 1267.37,481.15 1270.97,477.99 1274.57,474.77 1278.17,471.5 1281.77,468.16 1285.36,464.76 1288.96,461.3 1292.56,457.77 1296.16,454.17 1299.76,450.51 1303.35,446.78 1306.95,442.99 1310.55,439.12 1314.15,435.17 1317.75,431.16 1321.35,427.07 1324.94,422.9 1328.54,418.66 1332.14,414.34 1335.74,409.93 1339.34,405.45 1342.93,400.88 1346.53,396.23 1350.13,391.49 1353.73,386.66 1357.33,381.74 1360.93,376.73 1364.52,371.62 1368.12,366.42 1371.72,361.13 1375.32,355.73 1378.92,350.24 1382.51,344.64 1386.11,338.94 1389.71,333.13 1393.31,327.21 1396.91,321.18 1400.51,315.05 1404.1,308.79 1407.7,302.42 1411.3,295.93 1414.9,289.32 1418.5,282.59 1422.09,275.73 1425.69,268.74 1429.29,261.63 1432.89,254.38 1436.49,246.99 1440.09,239.47 1443.68,231.81 1447.28,224.01 1450.88,216.06 1454.48,207.96 1458.08,199.71 1461.67,191.3 1465.27,182.74 1468.87,174.02 1472.47,165.14 1476.07,156.1 1479.67,146.88 1483.26,137.49 1486.86,127.93 1490.46,118.19 1494.06,108.27 1497.66,98.16 1501.25,87.86 1504.85,77.37 1508.45,66.69 1512.05,55.81 1515.65,44.72 1519.25,33.43 1522.84,21.93 1526.44,10.21 1530.04,-1.72 1533.64,-13.88" fill="none" stroke="#1f77b4" stroke-width="3.6" stroke-linecap="round" stroke-dasharray="3.0 9.3"/>
<polyline points="817.6,632.24 821.2,632.05 824.8,631.85 828.39,631.65 831.99,631.45 835.59,631.25 839.19,631.04 842.79,630.84 846.39,630.63 849.98,630.41 853.58,630.2 857.18,629.98 860.78,629.77 864.38,629.55 867.97,629.32 871.57,629.1 875.17,628.87 878.77,628.64 882.37,628.41 885.97,628.17 889.56,627.93 893.16,627.69 896.76,627.45 900.36,627.21 903.96,626.96 907.55,626.71 911.15,626.46 914.75,626.2 918.35,625.94 921.95,625.68 925.55,625.42 929.14,625.15 932.74,624.88 936.34,624.61 939.94,624.33 943.54,624.05 947.13,623.77 950.73,623.49 954.33,623.2 957.93,622.91 961.53,622.62 965.13,622.32 968.72,622.02 972.32,621.72 975.92,621.41 979.52,621.1 983.12,620.79 986.71,620.48 990.31,620.16 993.91,619.83 997.51,619.51 1001.11,619.18 1004.71,618.85 1008.3,618.51 1011.9,618.17 1015.5,617.83 1019.1,617.48 1022.7,617.13 1026.29,616.77 1029.89,616.42 1033.49,616.05 1037.09,615.69 1040.69,615.32 1044.29,614.95 1047.88,614.57 1051.48,614.19 1055.08,613.8 1058.68,613.41 1062.28,613.02 1065.87,612.62 1069.47,612.22 1073.07,611.81 1076.67,611.4 1080.27,610.98 1083.87,610.56 1087.46,610.14 1091.06,609.71 1094.66,609.28 1098.26,608.84 1101.86,608.4 1105.45,607.95 1109.05,607.5 1112.65,607.04 1116.25,606.58 1119.85,606.12 1123.45,605.64 1127.04,605.17 1130.64,604.69 1134.24,604.2 1137.84,603.71 1141.44,603.21 1145.03,602.71 1148.63,602.2 1152.23,601.69 1155.83,601.17 1159.43,600.65 1163.03,600.12 1166.62,599.59 1170.22,599.05 1173.82,598.5 1177.42,597.95 1181.02,597.39 1184.61,596.83 1188.21,596.26 1191.81,595.68 1195.41,595.1 1199.01,594.51 1202.61,593.92 1206.2,593.32 1209.8,592.71 1213.4,592.1 1217,591.48 1220.6,590.85 1224.19,590.22 1227.79,589.58 1231.39,588.93 1234.99,588.28 1238.59,587.62 1242.19,586.95 1245.78,586.28 1249.38,585.6 1252.98,584.91 1256.58,584.21 1260.18,583.51 1263.77,582.8 1267.37,582.08 1270.97,581.36 1274.57,580.62 1278.17,579.88 1281.77,579.13 1285.36,578.38 1288.96,577.61 1292.56,576.84 1296.16,576.06 1299.76,575.27 1303.35,574.47 1306.95,573.66 1310.55,572.85 1314.15,572.02 1317.75,571.19 1321.35,570.35 1324.94,569.5 1328.54,568.64 1332.14,567.77 1335.74,566.9 1339.34,566.01 1342.93,565.11 1346.53,564.21 1350.13,563.29 1353.73,562.37 1357.33,561.43 1360.93,560.49 1364.52,559.54 1368.12,558.57 1371.72,557.6 1375.32,556.61 1378.92,555.62 1382.51,554.61 1386.11,553.59 1389.71,552.57 1393.31,551.53 1396.91,550.48 1400.51,549.42 1404.1,548.35 1407.7,547.26 1411.3,546.17 1414.9,545.06 1418.5,543.94 1422.09,542.81 1425.69,541.67 1429.29,540.52 1432.89,539.35 1436.49,538.18 1440.09,536.98 1443.68,535.78 1447.28,534.57 1450.88,533.34 1454.48,532.09 1458.08,530.84 1461.67,529.57 1465.27,528.29 1468.87,526.99 1472.47,525.68 1476.07,524.36 1479.67,523.02 1483.26,521.67 1486.86,520.31 1490.46,518.93 1494.06,517.53 1497.66,516.12 1501.25,514.7 1504.85,513.26 1508.45,511.81 1512.05,510.34 1515.65,508.85 1519.25,507.35 1522.84,505.83 1526.44,504.3 1530.04,502.75 1533.64,501.18" fill="none" stroke="#2ca02c" stroke-width="3.6" stroke-linecap="round" stroke-dasharray="3.0 9.3"/>
<polyline points="817.6,646.57 821.2,646.46 824.8,646.35 828.39,646.24 831.99,646.12 835.59,646 839.19,645.88 842.79,645.75 846.39,645.62 849.98,645.49 853.58,645.35 857.18,645.21 860.78,645.07 864.38,644.92 867.97,644.76 871.57,644.6 875.17,644.44 878.77,644.28 882.37,644.1 885.97,643.93 889.56,643.75 893.16,643.56 896.76,643.37 900.36,643.17 903.96,642.97 907.55,642.76 911.15,642.54 914.75,642.32 918.35,642.09 921.95,641.85 925.55,641.61 929.14,641.35 932.74,641.09 936.34,640.83 939.94,640.55 943.54,640.27 947.13,639.98 950.73,639.68 954.33,639.37 957.93,639.06 961.53,638.73 965.13,638.4 968.72,638.06 972.32,637.7 975.92,637.34 979.52,636.97 983.12,636.59 986.71,636.2 990.31,635.79 993.91,635.38 997.51,634.96 1001.11,634.53 1004.71,634.08 1008.3,633.63 1011.9,633.17 1015.5,632.69 1019.1,632.2 1022.7,631.71 1026.29,631.2 1029.89,630.67 1033.49,630.14 1037.09,629.59 1040.69,629.03 1044.29,628.45 1047.88,627.86 1051.48,627.26 1055.08,626.64 1058.68,626 1062.28,625.35 1065.87,624.69 1069.47,624.01 1073.07,623.31 1076.67,622.59 1080.27,621.85 1083.87,621.1 1087.46,620.33 1091.06,619.54 1094.66,618.72 1098.26,617.89 1101.86,617.04 1105.45,616.16 1109.05,615.26 1112.65,614.34 1116.25,613.4 1119.85,612.43 1123.45,611.44 1127.04,610.43 1130.64,609.39 1134.24,608.34 1137.84,607.26 1141.44,606.15 1145.03,605.02 1148.63,603.86 1152.23,602.67 1155.83,601.46 1159.43,600.21 1163.03,598.93 1166.62,597.61 1170.22,596.26 1173.82,594.87 1177.42,593.44 1181.02,591.97 1184.61,590.45 1188.21,588.89 1191.81,587.27 1195.41,585.61 1199.01,583.89 1202.61,582.11 1206.2,580.27 1209.8,578.37 1213.4,576.4 1217,574.38 1220.6,572.28 1224.19,570.12 1227.79,567.9 1231.39,565.61 1234.99,563.25 1238.59,560.82 1242.19,558.33 1245.78,555.77 1249.38,553.13 1252.98,550.44 1256.58,547.67 1260.18,544.83 1263.77,541.93 1267.37,538.95 1270.97,535.89 1274.57,532.74 1278.17,529.51 1281.77,526.2 1285.36,522.79 1288.96,519.29 1292.56,515.7 1296.16,512.01 1299.76,508.22 1303.35,504.33 1306.95,500.33 1310.55,496.22 1314.15,492 1317.75,487.6 1321.35,483.05 1324.94,478.39 1328.54,473.68 1332.14,468.98 1335.74,464.35 1339.34,459.88 1342.93,455.49 1346.53,451.11 1350.13,446.65 1353.73,442 1357.33,437.06 1360.93,431.69 1364.52,425.73 1368.12,419.08 1371.72,411.95 1375.32,404.57 1378.92,397.19 1382.51,390.1 1386.11,383.17 1389.71,376.29 1393.31,369.39 1396.91,362.4 1400.51,355.26 1404.1,347.88 1407.7,340.16 1411.3,332.19 1414.9,324.03 1418.5,315.64 1422.09,306.96 1425.69,297.92 1429.29,288.46 1432.89,278.46 1436.49,267.66 1440.09,256.3 1443.68,244.76 1447.28,233.42 1450.88,222.32 1454.48,211.22 1458.08,199.84 1461.67,188.14 1465.27,176.23 1468.87,164.08 1472.47,151.66 1476.07,138.93 1479.67,125.86 1483.26,112.41 1486.86,98.54 1490.46,84.21 1494.06,69.37 1497.66,53.97 1501.25,38.02 1504.85,21.56 1508.45,4.56 1512.05,-13 1515.65,-31.13 1519.25,-49.85 1522.84,-69.19 1526.44,-89.18 1530.04,-109.83 1533.64,-131.17" fill="none" stroke="#9467bd" stroke-width="3.6" stroke-linecap="round" stroke-dasharray="3.0 9.3"/>
<polyline points="817.6,646.72 821.2,646.65 824.8,646.59 828.39,646.53 831.99,646.46 835.59,646.4 839.19,646.33 842.79,646.26 846.39,646.19 849.98,646.12 853.58,646.05 857.18,645.98 860.78,645.91 864.38,645.83 867.97,645.76 871.57,645.68 875.17,645.6 878.77,645.52 882.37,645.44 885.97,645.36 889.56,645.28 893.16,645.19 896.76,645.11 900.36,645.02 903.96,644.93 907.55,644.84 911.15,644.75 914.75,644.65 918.35,644.56 921.95,644.46 925.55,644.37 929.14,644.27 932.74,644.17 936.34,644.06 939.94,643.96 943.54,643.85 947.13,643.75 950.73,643.64 954.33,643.53 957.93,643.42 961.53,643.3 965.13,643.19 968.72,643.07 972.32,642.95 975.92,642.83 979.52,642.7 983.12,642.58 986.71,642.45 990.31,642.32 993.91,642.19 997.51,642.05 1001.11,641.92 1004.71,641.78 1008.3,641.64 1011.9,641.5 1015.5,641.35 1019.1,641.21 1022.7,641.06 1026.29,640.91 1029.89,640.75 1033.49,640.59 1037.09,640.44 1040.69,640.27 1044.29,640.11 1047.88,639.94 1051.48,639.77 1055.08,639.6 1058.68,639.43 1062.28,639.25 1065.87,639.07 1069.47,638.89 1073.07,638.7 1076.67,638.51 1080.27,638.32 1083.87,638.12 1087.46,637.92 1091.06,637.72 1094.66,637.52 1098.26,637.31 1101.86,637.1 1105.45,636.88 1109.05,636.67 1112.65,636.45 1116.25,636.22 1119.85,635.99 1123.45,635.76 1127.04,635.52 1130.64,635.28 1134.24,635.04 1137.84,634.79 1141.44,634.54 1145.03,634.29 1148.63,634.03 1152.23,633.76 1155.83,633.5 1159.43,633.22 1163.03,632.95 1166.62,632.67 1170.22,632.38 1173.82,632.09 1177.42,631.8 1181.02,631.5 1184.61,631.2 1188.21,630.89 1191.81,630.58 1195.41,630.26 1199.01,629.93 1202.61,629.6 1206.2,629.27 1209.8,628.93 1213.4,628.59 1217,628.24 1220.6,627.88 1224.19,627.52 1227.79,627.15 1231.39,626.78 1234.99,626.4 1238.59,626.02 1242.19,625.63 1245.78,625.23 1249.38,624.83 1252.98,624.42 1256.58,624 1260.18,623.58 1263.77,623.15 1267.37,622.71 1270.97,622.27 1274.57,621.82 1278.17,621.36 1281.77,620.9 1285.36,620.43 1288.96,619.95 1292.56,619.46 1296.16,618.96 1299.76,618.46 1303.35,617.95 1306.95,617.43 1310.55,616.9 1314.15,616.37 1317.75,615.82 1321.35,615.27 1324.94,614.71 1328.54,614.14 1332.14,613.56 1335.74,612.97 1339.34,612.37 1342.93,611.76 1346.53,611.15 1350.13,610.52 1353.73,609.88 1357.33,609.24 1360.93,608.58 1364.52,607.91 1368.12,607.23 1371.72,606.54 1375.32,605.84 1378.92,605.13 1382.51,604.41 1386.11,603.67 1389.71,602.93 1393.31,602.17 1396.91,601.4 1400.51,600.62 1404.1,599.82 1407.7,599.02 1411.3,598.2 1414.9,597.36 1418.5,596.52 1422.09,595.66 1425.69,594.79 1429.29,593.9 1432.89,593 1436.49,592.08 1440.09,591.15 1443.68,590.21 1447.28,589.25 1450.88,588.27 1454.48,587.28 1458.08,586.27 1461.67,585.25 1465.27,584.21 1468.87,583.16 1472.47,582.09 1476.07,581 1479.67,579.89 1483.26,578.77 1486.86,577.62 1490.46,576.46 1494.06,575.29 1497.66,574.09 1501.25,572.87 1504.85,571.64 1508.45,570.38 1512.05,569.11 1515.65,567.81 1519.25,566.5 1522.84,565.16 1526.44,563.8 1530.04,562.42 1533.64,561.02" fill="none" stroke="#e377c2" stroke-width="3.6" stroke-linecap="round" stroke-dasharray="3.0 9.3"/>
<polyline points="817.6,646.57 821.2,646.49 824.8,646.42 828.39,646.34 831.99,646.25 835.59,646.17 839.19,646.09 842.79,646 846.39,645.91 849.98,645.82 853.58,645.73 857.18,645.64 860.78,645.54 864.38,645.45 867.97,645.35 871.57,645.25 875.17,645.15 878.77,645.04 882.37,644.94 885.97,644.83 889.56,644.72 893.16,644.61 896.76,644.49 900.36,644.38 903.96,644.26 907.55,644.14 911.15,644.01 914.75,643.89 918.35,643.76 921.95,643.63 925.55,643.49 929.14,643.36 932.74,643.22 936.34,643.08 939.94,642.94 943.54,642.79 947.13,642.64 950.73,642.49 954.33,642.33 957.93,642.18 961.53,642.02 965.13,641.85 968.72,641.68 972.32,641.51 975.92,641.34 979.52,641.16 983.12,640.98 986.71,640.8 990.31,640.61 993.91,640.42 997.51,640.23 1001.11,640.03 1004.71,639.83 1008.3,639.62 1011.9,639.41 1015.5,639.2 1019.1,638.98 1022.7,638.76 1026.29,638.53 1029.89,638.3 1033.49,638.07 1037.09,637.83 1040.69,637.59 1044.29,637.34 1047.88,637.08 1051.48,636.83 1055.08,636.56 1058.68,636.3 1062.28,636.02 1065.87,635.74 1069.47,635.46 1073.07,635.17 1076.67,634.88 1080.27,634.58 1083.87,634.27 1087.46,633.96 1091.06,633.64 1094.66,633.32 1098.26,632.99 1101.86,632.65 1105.45,632.31 1109.05,631.96 1112.65,631.6 1116.25,631.24 1119.85,630.87 1123.45,630.5 1127.04,630.11 1130.64,629.72 1134.24,629.32 1137.84,628.92 1141.44,628.5 1145.03,628.08 1148.63,627.65 1152.23,627.21 1155.83,626.77 1159.43,626.31 1163.03,625.85 1166.62,625.37 1170.22,624.89 1173.82,624.4 1177.42,623.9 1181.02,623.39 1184.61,622.87 1188.21,622.34 1191.81,621.8 1195.41,621.25 1199.01,620.69 1202.61,620.12 1206.2,619.54 1209.8,618.95 1213.4,618.34 1217,617.73 1220.6,617.1 1224.19,616.46 1227.79,615.81 1231.39,615.14 1234.99,614.47 1238.59,613.78 1242.19,613.08 1245.78,612.36 1249.38,611.63 1252.98,610.88 1256.58,610.13 1260.18,609.35 1263.77,608.57 1267.37,607.76 1270.97,606.95 1274.57,606.11 1278.17,605.26 1281.77,604.4 1285.36,603.52 1288.96,602.62 1292.56,601.7 1296.16,600.77 1299.76,599.82 1303.35,598.85 1306.95,597.86 1310.55,596.85 1314.15,595.83 1317.75,594.78 1321.35,593.71 1324.94,592.63 1328.54,591.52 1332.14,590.39 1335.74,589.24 1339.34,588.07 1342.93,586.88 1346.53,585.66 1350.13,584.42 1353.73,583.16 1357.33,581.87 1360.93,580.56 1364.52,579.22 1368.12,577.86 1371.72,576.47 1375.32,575.06 1378.92,573.61 1382.51,572.14 1386.11,570.65 1389.71,569.12 1393.31,567.57 1396.91,565.98 1400.51,564.36 1404.1,562.72 1407.7,561.04 1411.3,559.33 1414.9,557.59 1418.5,555.81 1422.09,554 1425.69,552.16 1429.29,550.28 1432.89,548.36 1436.49,546.41 1440.09,544.42 1443.68,542.4 1447.28,540.33 1450.88,538.23 1454.48,536.08 1458.08,533.89 1461.67,531.67 1465.27,529.4 1468.87,527.08 1472.47,524.72 1476.07,522.32 1479.67,519.87 1483.26,517.38 1486.86,514.83 1490.46,512.24 1494.06,509.6 1497.66,506.91 1501.25,504.16 1504.85,501.37 1508.45,498.52 1512.05,495.62 1515.65,492.66 1519.25,489.64 1522.84,486.57 1526.44,483.44 1530.04,480.25 1533.64,477" fill="none" stroke="#bcbd22" stroke-width="3.6" stroke-linecap="round" stroke-dasharray="3.0 9.3"/>
<polyline points="817.6,640.95 821.2,640.72 824.8,640.49 828.39,640.26 831.99,640.02 835.59,639.77 839.19,639.52 842.79,639.26 846.39,638.99 849.98,638.72 853.58,638.45 857.18,638.16 860.78,637.87 864.38,637.57 867.97,637.27 871.57,636.96 875.17,636.64 878.77,636.31 882.37,635.98 885.97,635.64 889.56,635.29 893.16,634.93 896.76,634.57 900.36,634.19 903.96,633.81 907.55,633.42 911.15,633.02 914.75,632.61 918.35,632.19 921.95,631.76 925.55,631.32 929.14,630.87 932.74,630.41 936.34,629.93 939.94,629.45 943.54,628.96 947.13,628.45 950.73,627.94 954.33,627.41 957.93,626.87 961.53,626.31 965.13,625.74 968.72,625.16 972.32,624.57 975.92,623.96 979.52,623.34 983.12,622.7 986.71,622.05 990.31,621.39 993.91,620.71 997.51,620.01 1001.11,619.29 1004.71,618.56 1008.3,617.81 1011.9,617.05 1015.5,616.27 1019.1,615.46 1022.7,614.64 1026.29,613.8 1029.89,612.95 1033.49,612.07 1037.09,611.17 1040.69,610.25 1044.29,609.3 1047.88,608.34 1051.48,607.35 1055.08,606.34 1058.68,605.31 1062.28,604.25 1065.87,603.17 1069.47,602.06 1073.07,600.93 1076.67,599.77 1080.27,598.59 1083.87,597.37 1087.46,596.13 1091.06,594.86 1094.66,593.56 1098.26,592.22 1101.86,590.86 1105.45,589.47 1109.05,588.04 1112.65,586.58 1116.25,585.09 1119.85,583.56 1123.45,581.99 1127.04,580.39 1130.64,578.75 1134.24,577.07 1137.84,575.36 1141.44,573.6 1145.03,571.8 1148.63,569.96 1152.23,568.08 1155.83,566.15 1159.43,564.18 1163.03,562.16 1166.62,560.1 1170.22,557.99 1173.82,555.83 1177.42,553.61 1181.02,551.35 1184.61,549.03 1188.21,546.66 1191.81,544.23 1195.41,541.75 1199.01,539.21 1202.61,536.61 1206.2,533.95 1209.8,531.23 1213.4,528.44 1217,525.59 1220.6,522.67 1224.19,519.68 1227.79,516.63 1231.39,513.5 1234.99,510.3 1238.59,507.02 1242.19,503.67 1245.78,500.24 1249.38,496.73 1252.98,493.14 1256.58,489.46 1260.18,485.7 1263.77,481.85 1267.37,477.91 1270.97,473.88 1274.57,469.76 1278.17,465.54 1281.77,461.22 1285.36,456.79 1288.96,452.27 1292.56,447.64 1296.16,442.9 1299.76,438.05 1303.35,433.09 1306.95,428.01 1310.55,422.82 1314.15,417.5 1317.75,412.06 1321.35,406.49 1324.94,400.79 1328.54,394.96 1332.14,388.99 1335.74,382.89 1339.34,376.64 1342.93,370.24 1346.53,363.7 1350.13,357 1353.73,350.14 1357.33,343.13 1360.93,335.95 1364.52,328.61 1368.12,321.09 1371.72,313.4 1375.32,305.53 1378.92,297.47 1382.51,289.23 1386.11,280.79 1389.71,272.16 1393.31,263.32 1396.91,254.28 1400.51,245.03 1404.1,235.56 1407.7,225.87 1411.3,215.96 1414.9,205.81 1418.5,195.43 1422.09,184.8 1425.69,173.93 1429.29,162.8 1432.89,151.41 1436.49,139.76 1440.09,127.84 1443.68,115.63 1447.28,103.14 1450.88,90.36 1454.48,77.29 1458.08,63.9 1461.67,50.21 1465.27,36.19 1468.87,21.85 1472.47,7.17 1476.07,-7.85 1479.67,-23.22 1483.26,-38.95 1486.86,-55.05 1490.46,-71.52 1494.06,-88.38 1497.66,-105.63 1501.25,-123.29 1504.85,-141.35 1508.45,-159.84 1512.05,-178.76 1515.65,-198.12 1519.25,-217.93 1522.84,-238.21 1526.44,-258.96 1530.04,-280.19 1533.64,-301.92" fill="none" stroke="#17becf" stroke-width="3.6" stroke-linecap="round" stroke-dasharray="3.0 9.3"/>
<polygon points="928,614.3 949.4,614.3 938.7,632.4" fill="#1f77b4" stroke="#000" stroke-width="2" stroke-linejoin="miter"/>
<polygon points="969.2,605.2 978.9,614.9 969.2,624.6 959.5,614.9" fill="#1f77b4" stroke="#000" stroke-width="2" stroke-linejoin="miter"/>
<polygon points="989,614.4 1007.4,614.4 998.2,596.6" fill="#1f77b4" stroke="#000" stroke-width="2" stroke-linejoin="miter"/>
<polygon points="1042.1,607.8 1063.2,607.8 1052.65,626.2" fill="#2ca02c" stroke="#000" stroke-width="2" stroke-linejoin="miter"/>
<polygon points="1077.25,602.8 1086.7,611.85 1077.25,620.9 1067.8,611.85" fill="#2ca02c" stroke="#000" stroke-width="2" stroke-linejoin="miter"/>
<polygon points="1092,614.2 1111.7,614.2 1101.85,596.1" fill="#2ca02c" stroke="#000" stroke-width="2" stroke-linejoin="miter"/>
<polygon points="1012.6,626.1 1029.9,626.1 1021.25,644" fill="#9467bd" stroke="#000" stroke-width="2" stroke-linejoin="miter"/>
<polygon points="1118.15,602.8 1127.6,612.25 1118.15,621.7 1108.7,612.25" fill="#9467bd" stroke="#000" stroke-width="2" stroke-linejoin="miter"/>
<polygon points="1204.8,579.1 1225.4,579.1 1215.1,560.2" fill="#9467bd" stroke="#000" stroke-width="2" stroke-linejoin="miter"/>
<polygon points="1067.4,633.1 1088.4,633.1 1077.9,652" fill="#e377c2" stroke="#000" stroke-width="2" stroke-linejoin="miter"/>
<polygon points="1123.6,627.1 1133.5,636.55 1123.6,646 1113.7,636.55" fill="#e377c2" stroke="#000" stroke-width="2" stroke-linejoin="miter"/>
<polygon points="1159.4,639.3 1180.3,639.3 1169.85,621.2" fill="#e377c2" stroke="#000" stroke-width="2" stroke-linejoin="miter"/>
<polygon points="932.1,637.4 953.2,637.4 942.65,655.5" fill="#bcbd22" stroke="#000" stroke-width="2" stroke-linejoin="miter"/>
<polygon points="974.55,632.5 984.3,642.25 974.55,652 964.8,642.25" fill="#bcbd22" stroke="#000" stroke-width="2" stroke-linejoin="miter"/>
<polygon points="994.9,646.7 1013.8,646.7 1004.35,629.3" fill="#bcbd22" stroke="#000" stroke-width="2" stroke-linejoin="miter"/>
<polygon points="1000.8,613.2 1020.3,613.2 1010.55,629.5" fill="#17becf" stroke="#000" stroke-width="2" stroke-linejoin="miter"/>
<polygon points="1078.7,591.7 1087.9,600.9 1078.7,610.1 1069.5,600.9" fill="#17becf" stroke="#000" stroke-width="2" stroke-linejoin="miter"/>
<polygon points="1137.1,578.8 1157.7,578.8 1147.4,560.2" fill="#17becf" stroke="#000" stroke-width="2" stroke-linejoin="miter"/>
<line x1="893.9" y1="60.3" x2="893.9" y2="673.5" stroke="#a6a6a6" stroke-width="3.2" stroke-linecap="round" stroke-dasharray="12.1 12.95"/>
<line x1="1015.3" y1="60.3" x2="1015.3" y2="673.5" stroke="#a6a6a6" stroke-width="3.2" stroke-linecap="round" stroke-dasharray="12.1 12.95"/>
<line x1="1114.9" y1="60.3" x2="1114.9" y2="673.5" stroke="#a6a6a6" stroke-width="3.2" stroke-linecap="round" stroke-dasharray="12.1 12.95"/>
<line x1="1186.8" y1="60.3" x2="1186.8" y2="673.5" stroke="#a6a6a6" stroke-width="3.2" stroke-linecap="round" stroke-dasharray="12.1 12.95"/>
<line x1="1282.2" y1="60.3" x2="1282.2" y2="673.5" stroke="#a6a6a6" stroke-width="3.2" stroke-linecap="round" stroke-dasharray="12.1 12.95"/>
<line x1="1407.3" y1="60.3" x2="1407.3" y2="673.5" stroke="#a6a6a6" stroke-width="3.2" stroke-linecap="round" stroke-dasharray="12.1 12.95"/>
</g>
<rect x="814.6" y="210.9" width="244.2" height="300.2" fill="#fff" stroke="#000" stroke-width="1.7"/>
<line x1="821.5" y1="240.8" x2="865.8" y2="240.8" stroke="#1f77b4" stroke-width="3.8" stroke-linecap="round"/>
<line x1="821.5" y1="270.83" x2="865.8" y2="270.83" stroke="#2ca02c" stroke-width="3.8" stroke-linecap="round"/>
<line x1="821.5" y1="300.86" x2="865.8" y2="300.86" stroke="#9467bd" stroke-width="3.8" stroke-linecap="round"/>
<line x1="821.5" y1="330.89" x2="865.8" y2="330.89" stroke="#e377c2" stroke-width="3.8" stroke-linecap="round"/>
<line x1="821.5" y1="360.92" x2="865.8" y2="360.92" stroke="#bcbd22" stroke-width="3.8" stroke-linecap="round"/>
<line x1="821.5" y1="390.95" x2="865.8" y2="390.95" stroke="#17becf" stroke-width="3.8" stroke-linecap="round"/>
<text x="888.4" y="249.9" font-size="24.8" textLength="127.3" lengthAdjust="spacingAndGlyphs">High Plains</text>
<text x="888.4" y="279.93" font-size="24.8" textLength="109" lengthAdjust="spacingAndGlyphs">Northeast</text>
<text x="888.4" y="309.96" font-size="24.8" textLength="92.6" lengthAdjust="spacingAndGlyphs">MSDelta</text>
<text x="888.4" y="339.99" font-size="24.8" textLength="113.1" lengthAdjust="spacingAndGlyphs">Southeast</text>
<text x="888.4" y="370.02" font-size="24.8" textLength="92.1" lengthAdjust="spacingAndGlyphs">Midwest</text>
<text x="888.4" y="400.05" font-size="24.8" textLength="140" lengthAdjust="spacingAndGlyphs">Texas Coast</text>
<text x="888.4" y="430.08" font-size="24.8" textLength="159.2" lengthAdjust="spacingAndGlyphs">1970 ann.max</text>
<text x="888.4" y="460.11" font-size="24.8" textLength="159.2" lengthAdjust="spacingAndGlyphs">2010 ann.max</text>
<text x="888.4" y="490.14" font-size="24.8" textLength="159.2" lengthAdjust="spacingAndGlyphs">2050 ann.max</text>
<polygon points="837.2,417.4 850.7,417.4 843.95,429.4" fill="none" stroke="#000" stroke-width="1.3"/>
<polygon points="843.6,444.9 850.7,452 843.6,459.1 836.5,452" fill="none" stroke="#000" stroke-width="1.3"/>
<polygon points="836.5,485.9 851.5,485.9 844,472.4" fill="none" stroke="#000" stroke-width="1.3"/>
<rect x="814.4" y="48.3" width="715.2" height="625.2" fill="none" stroke="#000" stroke-width="1.8"/>
<line x1="798.8" y1="650.6" x2="814.4" y2="650.6" stroke="#000" stroke-width="1.8"/>
<text transform="translate(778.8 650.6) rotate(-90) scale(1 1.07)" font-size="24.5" text-anchor="middle">0</text>
<line x1="798.8" y1="567.85" x2="814.4" y2="567.85" stroke="#000" stroke-width="1.8"/>
<text transform="translate(778.8 567.85) rotate(-90) scale(1 1.07)" font-size="24.5" text-anchor="middle">5</text>
<line x1="798.8" y1="485.1" x2="814.4" y2="485.1" stroke="#000" stroke-width="1.8"/>
<text transform="translate(778.8 485.1) rotate(-90) scale(1 1.07)" font-size="24.5" text-anchor="middle">10</text>
<line x1="798.8" y1="402.35" x2="814.4" y2="402.35" stroke="#000" stroke-width="1.8"/>
<text transform="translate(778.8 402.35) rotate(-90) scale(1 1.07)" font-size="24.5" text-anchor="middle">15</text>
<line x1="798.8" y1="319.6" x2="814.4" y2="319.6" stroke="#000" stroke-width="1.8"/>
<text transform="translate(778.8 319.6) rotate(-90) scale(1 1.07)" font-size="24.5" text-anchor="middle">20</text>
<line x1="798.8" y1="236.85" x2="814.4" y2="236.85" stroke="#000" stroke-width="1.8"/>
<text transform="translate(778.8 236.85) rotate(-90) scale(1 1.07)" font-size="24.5" text-anchor="middle">25</text>
<line x1="798.8" y1="154.1" x2="814.4" y2="154.1" stroke="#000" stroke-width="1.8"/>
<text transform="translate(778.8 154.1) rotate(-90) scale(1 1.07)" font-size="24.5" text-anchor="middle">30</text>
<line x1="798.8" y1="71.35" x2="814.4" y2="71.35" stroke="#000" stroke-width="1.8"/>
<text transform="translate(778.8 71.35) rotate(-90) scale(1 1.07)" font-size="24.5" text-anchor="middle">35</text>
<line x1="856.96" y1="673.5" x2="856.96" y2="689.3" stroke="#000" stroke-width="1.8"/>
<text x="856.96" y="728.3" font-size="24.5" text-anchor="middle">-2</text>
<line x1="1018.5" y1="673.5" x2="1018.5" y2="689.3" stroke="#000" stroke-width="1.8"/>
<text x="1018.5" y="728.3" font-size="24.5" text-anchor="middle">0</text>
<line x1="1180.04" y1="673.5" x2="1180.04" y2="689.3" stroke="#000" stroke-width="1.8"/>
<text x="1180.04" y="728.3" font-size="24.5" text-anchor="middle">2</text>
<line x1="1341.58" y1="673.5" x2="1341.58" y2="689.3" stroke="#000" stroke-width="1.8"/>
<text x="1341.58" y="728.3" font-size="24.5" text-anchor="middle">4</text>
<line x1="1503.12" y1="673.5" x2="1503.12" y2="689.3" stroke="#000" stroke-width="1.8"/>
<text x="1503.12" y="728.3" font-size="24.5" text-anchor="middle">6</text>
<text x="1172" y="788.4" font-size="24.8" text-anchor="middle" textLength="130.5" lengthAdjust="spacingAndGlyphs">TC intensity</text>
<text x="717.4" y="361.3" font-size="24" text-anchor="middle" transform="rotate(-90 717.4 361.3)" textLength="230.4" lengthAdjust="spacingAndGlyphs">Poisson predicted fs'</text>
</svg>
</body></html>
